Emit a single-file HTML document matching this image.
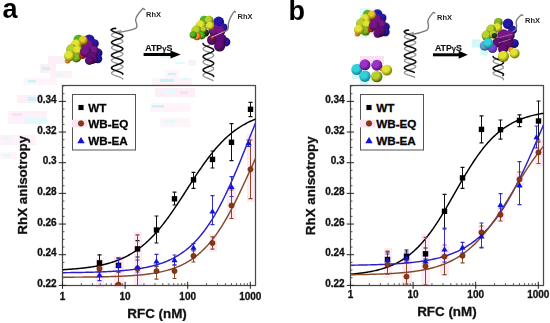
<!DOCTYPE html>
<html><head><meta charset="utf-8"><style>
html,body{margin:0;padding:0;background:#fff;}
body{width:550px;height:323px;overflow:hidden;font-family:"Liberation Sans",sans-serif;}
svg{display:block;}
</style></head><body>
<svg width="550" height="323" viewBox="0 0 550 323">
<rect width="550" height="323" fill="#fff"/>
<rect x="48" y="56" width="16" height="8" fill="#fdeff8"/>
<rect x="61" y="60" width="4" height="4" fill="#e2fafc"/>
<rect x="40" y="64" width="16" height="9" fill="#fdeff8"/>
<rect x="42" y="67" width="8" height="3" fill="#c8f4f8"/>
<rect x="50" y="71" width="22" height="7" fill="#fdf2f9"/>
<rect x="55" y="73" width="8" height="3" fill="#e2fafc"/>
<rect x="24" y="78" width="33" height="7" fill="#fef4fa"/>
<rect x="28" y="80" width="8" height="2.5" fill="#c8f4f8"/>
<rect x="17" y="95" width="19" height="8" fill="#fdeff8"/>
<rect x="28" y="97" width="8" height="4" fill="#c8f4f8"/>
<rect x="8" y="111" width="39" height="13" fill="#fdf2f9"/>
<rect x="25" y="118" width="22" height="6" fill="#e2fafc"/>
<rect x="12" y="113" width="10" height="3" fill="#fae0f2"/>
<rect x="0" y="135" width="36" height="10" fill="#fdf2f9"/>
<rect x="3" y="137" width="8" height="3" fill="#e2fafc"/>
<rect x="0" y="152" width="17" height="7" fill="#fef4fa"/>
<rect x="2" y="154" width="8" height="2.5" fill="#e2fafc"/>
<rect x="152" y="78" width="40" height="8" fill="#fef4fa"/>
<rect x="160" y="79" width="14" height="3" fill="#c8f4f8"/>
<rect x="155" y="88" width="40" height="9" fill="#fdeff8"/>
<rect x="165" y="90" width="10" height="4" fill="#e2fafc"/>
<rect x="180" y="91" width="8" height="3" fill="#fae0f2"/>
<rect x="150" y="103" width="40" height="9" fill="#fef4fa"/>
<rect x="152" y="105" width="12" height="2.5" fill="#c8f4f8"/>
<rect x="160" y="118" width="30" height="9" fill="#fef5fa"/>
<rect x="165" y="120" width="10" height="3" fill="#e2fafc"/>
<rect x="160" y="55" width="12" height="3" fill="#e2fafc"/>
<rect x="175" y="62" width="10" height="2" fill="#e2fafc"/>
<rect x="165" y="70" width="14" height="8" fill="#fef4fa"/>
<rect x="168" y="73" width="8" height="2" fill="#c8f4f8"/>
<rect x="180" y="78" width="10" height="2" fill="#e2fafc"/>
<rect x="188" y="60" width="8" height="6" fill="#fdeff8"/>
<rect x="360" y="8" width="8" height="30" fill="#e4fafa"/>
<rect x="368" y="8" width="8" height="30" fill="#fef5fa"/>
<rect x="96" y="258" width="8" height="30" fill="#fdeaf4"/>
<rect x="114" y="256" width="10" height="32" fill="#fdeaf4"/>
<rect x="134" y="232" width="8" height="54" fill="#fdeaf4"/>
<rect x="247" y="134" width="9" height="68" fill="#fdeaf4"/>
<rect x="227" y="186" width="9" height="34" fill="#fdeaf4"/>
<rect x="209" y="234" width="8" height="18" fill="#fdeaf4"/>
<rect x="384" y="248" width="8" height="30" fill="#fdeaf4"/>
<rect x="402" y="258" width="10" height="28" fill="#fdeaf4"/>
<rect x="421" y="234" width="9" height="52" fill="#fdeaf4"/>
<rect x="440" y="246" width="9" height="30" fill="#fdeaf4"/>
<rect x="535" y="140" width="8" height="26" fill="#fdeaf4"/>
<rect x="516" y="172" width="8" height="16" fill="#fdeaf4"/>
<rect x="497" y="208" width="8" height="14" fill="#fdeaf4"/>
<rect x="478" y="226" width="8" height="10" fill="#fdeaf4"/>
<defs>
<radialGradient id="sy" cx="0.4" cy="0.36" r="0.66"><stop offset="0" stop-color="#e2e232"/><stop offset="0.45" stop-color="#e2e232"/><stop offset="1" stop-color="#6a7000"/></radialGradient>
<radialGradient id="syg" cx="0.4" cy="0.36" r="0.66"><stop offset="0" stop-color="#b8d02a"/><stop offset="0.45" stop-color="#b8d02a"/><stop offset="1" stop-color="#405a00"/></radialGradient>
<radialGradient id="sg" cx="0.4" cy="0.36" r="0.66"><stop offset="0" stop-color="#52b422"/><stop offset="0.45" stop-color="#52b422"/><stop offset="1" stop-color="#1a5000"/></radialGradient>
<radialGradient id="so" cx="0.4" cy="0.36" r="0.66"><stop offset="0" stop-color="#f89030"/><stop offset="0.45" stop-color="#f89030"/><stop offset="1" stop-color="#984000"/></radialGradient>
<radialGradient id="sr" cx="0.4" cy="0.36" r="0.66"><stop offset="0" stop-color="#c83018"/><stop offset="0.45" stop-color="#c83018"/><stop offset="1" stop-color="#681000"/></radialGradient>
<radialGradient id="sp" cx="0.4" cy="0.36" r="0.66"><stop offset="0" stop-color="#761888"/><stop offset="0.45" stop-color="#761888"/><stop offset="1" stop-color="#340444"/></radialGradient>
<radialGradient id="spd" cx="0.4" cy="0.36" r="0.66"><stop offset="0" stop-color="#641078"/><stop offset="0.45" stop-color="#641078"/><stop offset="1" stop-color="#2a0436"/></radialGradient>
<radialGradient id="sb" cx="0.4" cy="0.36" r="0.66"><stop offset="0" stop-color="#2618b0"/><stop offset="0.45" stop-color="#2618b0"/><stop offset="1" stop-color="#0a065a"/></radialGradient>
<radialGradient id="sc" cx="0.4" cy="0.36" r="0.66"><stop offset="0" stop-color="#30d0d8"/><stop offset="0.45" stop-color="#30d0d8"/><stop offset="1" stop-color="#147890"/></radialGradient>
<radialGradient id="scb" cx="0.4" cy="0.36" r="0.66"><stop offset="0" stop-color="#6aa0d0"/><stop offset="0.45" stop-color="#6aa0d0"/><stop offset="1" stop-color="#2a4a88"/></radialGradient>
<radialGradient id="sv" cx="0.4" cy="0.36" r="0.66"><stop offset="0" stop-color="#7a4cd8"/><stop offset="0.45" stop-color="#7a4cd8"/><stop offset="1" stop-color="#3a1c88"/></radialGradient>
<radialGradient id="sbr" cx="0.4" cy="0.36" r="0.66"><stop offset="0" stop-color="#903418"/><stop offset="0.45" stop-color="#903418"/><stop offset="1" stop-color="#4a1000"/></radialGradient>
<radialGradient id="sk" cx="0.4" cy="0.36" r="0.66"><stop offset="0" stop-color="#2a3a1a"/><stop offset="0.45" stop-color="#2a3a1a"/><stop offset="1" stop-color="#0e1a06"/></radialGradient>
<radialGradient id="syo" cx="0.4" cy="0.36" r="0.66"><stop offset="0" stop-color="#e8c828"/><stop offset="0.45" stop-color="#e8c828"/><stop offset="1" stop-color="#7a5a00"/></radialGradient>
<radialGradient id="sgy" cx="0.4" cy="0.36" r="0.66"><stop offset="0" stop-color="#88b820"/><stop offset="0.45" stop-color="#88b820"/><stop offset="1" stop-color="#2e5200"/></radialGradient>
<radialGradient id="spv" cx="0.4" cy="0.36" r="0.66"><stop offset="0" stop-color="#9a30c8"/><stop offset="0.45" stop-color="#9a30c8"/><stop offset="1" stop-color="#4a0a70"/></radialGradient>
<radialGradient id="src" cx="0.4" cy="0.36" r="0.66"><stop offset="0" stop-color="#6a4a80"/><stop offset="0.45" stop-color="#6a4a80"/><stop offset="1" stop-color="#302040"/></radialGradient>
<filter id="bl" x="-10%" y="-10%" width="120%" height="120%"><feGaussianBlur stdDeviation="0.55"/></filter>
<filter id="bl2" x="-10%" y="-10%" width="120%" height="120%"><feGaussianBlur stdDeviation="0.3"/></filter>
</defs>
<g filter="url(#bl)">
<g transform="translate(0.00,0.00) scale(1)">
<circle cx="82.5" cy="47.0" r="4.5" fill="url(#sbr)"/>
<circle cx="89.2" cy="39.8" r="5.4" fill="url(#sb)"/>
<circle cx="94.5" cy="43.5" r="4.3" fill="url(#sb)"/>
<circle cx="98.0" cy="53.0" r="4.5" fill="url(#sb)"/>
<circle cx="97.8" cy="58.8" r="4.5" fill="url(#sb)"/>
<circle cx="88.4" cy="45.5" r="5.8" fill="url(#sp)"/>
<circle cx="93.4" cy="51.0" r="5.6" fill="url(#sp)"/>
<circle cx="78.4" cy="39.6" r="4.9" fill="url(#sg)"/>
<circle cx="83.2" cy="40.2" r="4.5" fill="url(#syo)"/>
<circle cx="76.2" cy="44.6" r="5.4" fill="url(#sy)"/>
<circle cx="71.6" cy="49.4" r="5.4" fill="url(#syg)"/>
<circle cx="77.6" cy="50.4" r="4.7" fill="url(#sy)"/>
<circle cx="76.4" cy="57.6" r="4.9" fill="url(#sgy)"/>
<circle cx="67.6" cy="60.6" r="2.8" fill="url(#so)"/>
<circle cx="69.4" cy="56.0" r="5.4" fill="url(#sy)"/>
<circle cx="82.6" cy="55.6" r="3.4" fill="url(#sr)"/>
<circle cx="85.6" cy="51.6" r="5.6" fill="url(#sp)"/>
<circle cx="92.2" cy="58.0" r="6.0" fill="url(#spd)"/>
<circle cx="89.4" cy="60.4" r="4.5" fill="url(#spd)"/>
</g>
<g transform="translate(294.50,-22.55) scale(0.93)">
<circle cx="82.5" cy="47.0" r="4.5" fill="url(#sbr)"/>
<circle cx="89.2" cy="39.8" r="5.4" fill="url(#sb)"/>
<circle cx="94.5" cy="43.5" r="4.3" fill="url(#sb)"/>
<circle cx="98.0" cy="53.0" r="4.5" fill="url(#sb)"/>
<circle cx="97.8" cy="58.8" r="4.5" fill="url(#sb)"/>
<circle cx="88.4" cy="45.5" r="5.8" fill="url(#sp)"/>
<circle cx="93.4" cy="51.0" r="5.6" fill="url(#sp)"/>
<circle cx="78.4" cy="39.6" r="4.9" fill="url(#sg)"/>
<circle cx="83.2" cy="40.2" r="4.5" fill="url(#syo)"/>
<circle cx="76.2" cy="44.6" r="5.4" fill="url(#sy)"/>
<circle cx="71.6" cy="49.4" r="5.4" fill="url(#syg)"/>
<circle cx="77.6" cy="50.4" r="4.7" fill="url(#sy)"/>
<circle cx="76.4" cy="57.6" r="4.9" fill="url(#sgy)"/>
<circle cx="67.6" cy="60.6" r="2.8" fill="url(#so)"/>
<circle cx="69.4" cy="56.0" r="5.4" fill="url(#sy)"/>
<circle cx="82.6" cy="55.6" r="3.4" fill="url(#sr)"/>
<circle cx="85.6" cy="51.6" r="5.6" fill="url(#sp)"/>
<circle cx="92.2" cy="58.0" r="6.0" fill="url(#spd)"/>
<circle cx="89.4" cy="60.4" r="4.5" fill="url(#spd)"/>
</g>
</g><g filter="url(#bl2)">
<polyline points="120.56,30.50 119.72,30.85 118.80,31.20 117.83,31.55 116.85,31.90 115.87,32.25 114.94,32.60 114.07,32.95 113.30,33.30 112.64,33.65 112.12,34.00 111.75,34.35 111.54,34.70 111.51,35.05 111.64,35.40 111.94,35.75 112.40,36.10 113.00,36.45 113.73,36.80 114.56,37.15 115.47,37.50 116.43,37.85 117.41,38.20 118.39,38.55 119.33,38.90 120.21,39.25 121.00,39.60 121.68,39.95 122.22,40.30 122.61,40.65 122.84,41.00 122.90,41.35 122.79,41.70 122.51,42.05 122.08,42.40 121.50,42.75 120.79,43.10 119.97,43.45 119.07,43.80 118.11,44.15 117.13,44.50 116.15,44.85 115.20,45.20 114.31,45.55 113.51,45.90 112.81,46.25 112.25,46.60 111.84,46.95 111.59,47.30 111.50,47.65 111.59,48.00 111.84,48.35 112.25,48.70 112.81,49.05 113.51,49.40 114.31,49.75 115.20,50.10 116.15,50.45 117.13,50.80 118.11,51.15 119.07,51.50 119.97,51.85 120.79,52.20 121.50,52.55 122.08,52.90 122.51,53.25 122.79,53.60 122.90,53.95 122.84,54.30 122.61,54.65 122.22,55.00 121.68,55.35 121.00,55.70 120.21,56.05 119.33,56.40 118.39,56.75 117.41,57.10 116.43,57.45 115.47,57.80 114.56,58.15 113.73,58.50 113.00,58.85 112.40,59.20 111.94,59.55 111.64,59.90 111.51,60.25 111.54,60.60 111.75,60.95 112.12,61.30 112.64,61.65 113.30,62.00 114.07,62.35 114.94,62.70 115.87,63.05 116.85,63.40 117.83,63.75 118.80,64.10 119.72,64.45 120.56,64.80 121.30,65.15 121.92,65.50 122.40,65.85 122.73,66.20 122.88,66.55 122.87,66.90 122.69,67.25 122.34,67.60 121.84,67.95 121.21,68.30 120.45,68.65 119.59,69.00 118.66,69.35 117.69,69.70 116.71,70.05 115.74,70.40 114.81,70.75 113.95,71.10 113.19,71.45 112.56,71.80 112.06,72.15 111.71,72.50 111.53,72.85 111.52,73.20 111.67,73.55 112.00,73.90 112.48,74.25 113.10,74.60 113.84,74.95 114.68,75.30 115.60,75.65 116.57,76.00 117.55,76.35 118.53,76.70 119.46,77.05 120.33,77.40 121.10,77.75 121.76,78.10 122.28,78.45 122.65,78.80 122.86,79.15" fill="none" stroke="#969696" stroke-width="1.35" stroke-linecap="round"/>
<polyline points="111.50,29.80 111.59,30.15 111.84,30.50 112.25,30.85 112.81,31.20 113.51,31.55 114.31,31.90 115.20,32.25 116.15,32.60 117.13,32.95 118.11,33.30 119.07,33.65 119.97,34.00 120.79,34.35 121.50,34.70 122.08,35.05 122.51,35.40 122.79,35.75 122.90,36.10 122.84,36.45 122.61,36.80 122.22,37.15 121.68,37.50 121.00,37.85 120.21,38.20 119.33,38.55 118.39,38.90 117.41,39.25 116.43,39.60 115.47,39.95 114.56,40.30 113.73,40.65 113.00,41.00 112.40,41.35 111.94,41.70 111.64,42.05 111.51,42.40 111.54,42.75 111.75,43.10 112.12,43.45 112.64,43.80 113.30,44.15 114.07,44.50 114.94,44.85 115.87,45.20 116.85,45.55 117.83,45.90 118.80,46.25 119.72,46.60 120.56,46.95 121.30,47.30 121.92,47.65 122.40,48.00 122.73,48.35 122.88,48.70 122.87,49.05 122.69,49.40 122.34,49.75 121.84,50.10 121.21,50.45 120.45,50.80 119.59,51.15 118.66,51.50 117.69,51.85 116.71,52.20 115.74,52.55 114.81,52.90 113.95,53.25 113.19,53.60 112.56,53.95 112.06,54.30 111.71,54.65 111.53,55.00 111.52,55.35 111.67,55.70 112.00,56.05 112.48,56.40 113.10,56.75 113.84,57.10 114.68,57.45 115.60,57.80 116.57,58.15 117.55,58.50 118.53,58.85 119.46,59.20 120.33,59.55 121.10,59.90 121.76,60.25 122.28,60.60 122.65,60.95 122.86,61.30 122.89,61.65 122.76,62.00 122.46,62.35 122.00,62.70 121.40,63.05 120.67,63.40 119.84,63.75 118.93,64.10 117.97,64.45 116.99,64.80 116.01,65.15 115.07,65.50 114.19,65.85 113.40,66.20 112.72,66.55 112.18,66.90 111.79,67.25 111.56,67.60 111.50,67.95 111.61,68.30 111.89,68.65 112.32,69.00 112.90,69.35 113.61,69.70 114.43,70.05 115.33,70.40 116.29,70.75 117.27,71.10 118.25,71.45 119.20,71.80 120.09,72.15 120.89,72.50 121.59,72.85 122.15,73.20 122.56,73.55 122.81,73.90 122.90,74.25" fill="none" stroke="#111" stroke-width="1.55" stroke-linecap="round"/>
<path d="M115.6,28.4 Q112.2,28.2 111.1,29.9" fill="none" stroke="#111" stroke-width="1.7" stroke-linecap="round"/>
<path d="M117.5,32.6 C124,31.6 131,30.6 135.6,28.4 C139,26.2 135.4,22.5 135.6,19.6 C136.3,15.2 139.5,12 142.9,8.4 L145.2,9.8" fill="none" stroke="#7c7c7c" stroke-width="1.4"/>
<polyline points="413.20,32.50 412.28,32.85 411.29,33.20 410.25,33.55 409.21,33.90 408.20,34.25 407.25,34.60 406.40,34.95 405.67,35.30 405.09,35.65 404.68,36.00 404.45,36.35 404.41,36.70 404.56,37.05 404.89,37.40 405.40,37.75 406.07,38.10 406.87,38.45 407.78,38.80 408.77,39.15 409.80,39.50 410.84,39.85 411.86,40.20 412.82,40.55 413.69,40.90 414.43,41.25 415.04,41.60 415.47,41.95 415.73,42.30 415.80,42.65 415.68,43.00 415.37,43.35 414.88,43.70 414.23,44.05 413.45,44.40 412.55,44.75 411.58,45.10 410.55,45.45 409.50,45.80 408.48,46.15 407.51,46.50 406.63,46.85 405.86,47.20 405.24,47.55 404.78,47.90 404.50,48.25 404.40,48.60 404.50,48.95 404.78,49.30 405.24,49.65 405.86,50.00 406.63,50.35 407.51,50.70 408.48,51.05 409.50,51.40 410.55,51.75 411.58,52.10 412.55,52.45 413.45,52.80 414.23,53.15 414.88,53.50 415.37,53.85 415.68,54.20 415.80,54.55 415.73,54.90 415.47,55.25 415.04,55.60 414.43,55.95 413.69,56.30 412.82,56.65 411.86,57.00 410.84,57.35 409.80,57.70 408.77,58.05 407.78,58.40 406.87,58.75 406.07,59.10 405.40,59.45 404.89,59.80 404.56,60.15 404.41,60.50 404.45,60.85 404.68,61.20 405.09,61.55 405.67,61.90 406.40,62.25 407.25,62.60 408.20,62.95 409.21,63.30 410.25,63.65 411.29,64.00 412.28,64.35 413.20,64.70 414.02,65.05 414.71,65.40 415.24,65.75 415.61,66.10 415.78,66.45 415.77,66.80 415.57,67.15 415.18,67.50 414.62,67.85 413.91,68.20 413.08,68.55 412.14,68.90 411.14,69.25 410.10,69.60 409.06,69.95 408.06,70.30 407.12,70.65 406.29,71.00 405.58,71.35 405.02,71.70 404.63,72.05 404.43,72.40 404.42,72.75 404.59,73.10 404.96,73.45 405.49,73.80 406.18,74.15 407.00,74.50 407.92,74.85 408.91,75.20 409.95,75.55 410.99,75.90 412.00,76.25 412.95,76.60 413.80,76.95 414.53,77.30" fill="none" stroke="#969696" stroke-width="1.35" stroke-linecap="round"/>
<polyline points="404.40,31.80 404.50,32.15 404.78,32.50 405.24,32.85 405.86,33.20 406.63,33.55 407.51,33.90 408.48,34.25 409.50,34.60 410.55,34.95 411.58,35.30 412.55,35.65 413.45,36.00 414.23,36.35 414.88,36.70 415.37,37.05 415.68,37.40 415.80,37.75 415.73,38.10 415.47,38.45 415.04,38.80 414.43,39.15 413.69,39.50 412.82,39.85 411.86,40.20 410.84,40.55 409.80,40.90 408.77,41.25 407.78,41.60 406.87,41.95 406.07,42.30 405.40,42.65 404.89,43.00 404.56,43.35 404.41,43.70 404.45,44.05 404.68,44.40 405.09,44.75 405.67,45.10 406.40,45.45 407.25,45.80 408.20,46.15 409.21,46.50 410.25,46.85 411.29,47.20 412.28,47.55 413.20,47.90 414.02,48.25 414.71,48.60 415.24,48.95 415.61,49.30 415.78,49.65 415.77,50.00 415.57,50.35 415.18,50.70 414.62,51.05 413.91,51.40 413.08,51.75 412.14,52.10 411.14,52.45 410.10,52.80 409.06,53.15 408.06,53.50 407.12,53.85 406.29,54.20 405.58,54.55 405.02,54.90 404.63,55.25 404.43,55.60 404.42,55.95 404.59,56.30 404.96,56.65 405.49,57.00 406.18,57.35 407.00,57.70 407.92,58.05 408.91,58.40 409.95,58.75 410.99,59.10 412.00,59.45 412.95,59.80 413.80,60.15 414.53,60.50 415.11,60.85 415.52,61.20 415.75,61.55 415.79,61.90 415.64,62.25 415.31,62.60 414.80,62.95 414.13,63.30 413.33,63.65 412.42,64.00 411.43,64.35 410.40,64.70 409.36,65.05 408.34,65.40 407.38,65.75 406.51,66.10 405.77,66.45 405.16,66.80 404.73,67.15 404.47,67.50 404.40,67.85 404.52,68.20 404.83,68.55 405.32,68.90 405.97,69.25 406.75,69.60 407.65,69.95 408.62,70.30 409.65,70.65 410.70,71.00 411.72,71.35 412.69,71.70 413.57,72.05 414.34,72.40" fill="none" stroke="#111" stroke-width="1.55" stroke-linecap="round"/>
<path d="M408.4,30.2 Q405.2,30.0 404.4,31.6" fill="none" stroke="#111" stroke-width="1.7" stroke-linecap="round"/>
<path d="M410.5,34.6 C416,34 422,32.5 426.6,30.4 C430,28 428,24 427.8,21.1 C428.5,18 431,15 433.4,12.4 L435.3,13.4" fill="none" stroke="#7c7c7c" stroke-width="1.4"/>
</g><g filter="url(#bl)">
<rect x="360" y="56" width="24" height="8" fill="#fbe0f4"/><rect x="352" y="64" width="8" height="15" fill="#d4f8f8"/><rect x="360" y="79" width="8" height="6" fill="#d4f8f8"/>
<circle cx="381.9" cy="68.6" r="2.6" fill="url(#so)"/>
<circle cx="356.8" cy="69.6" r="5.5" fill="url(#sc)"/>
<circle cx="386.8" cy="70.2" r="5.4" fill="url(#sy)"/>
<circle cx="365.0" cy="64.8" r="5.5" fill="url(#spv)"/>
<circle cx="376.8" cy="65.2" r="5.5" fill="url(#spv)"/>
<circle cx="364.9" cy="76.2" r="5.7" fill="url(#sc)"/>
<circle cx="376.8" cy="76.6" r="5.7" fill="url(#syg)"/>
<circle cx="371.8" cy="62.4" r="0.9" fill="#f4e8f8"/><circle cx="358.4" cy="76.8" r="0.9" fill="#e8f4f4"/><circle cx="385.2" cy="77.3" r="0.9" fill="#f4f4e0"/>
<polyline points="209.65,45.00 208.78,45.35 207.90,45.70 207.03,46.05 206.20,46.40 205.43,46.75 204.74,47.10 204.16,47.45 203.69,47.80 203.35,48.15 203.15,48.50 203.10,48.85 203.20,49.20 203.43,49.55 203.81,49.90 204.31,50.25 204.93,50.60 205.64,50.95 206.43,51.30 207.27,51.65 208.15,52.00 209.03,52.35 209.89,52.70 210.72,53.05 211.47,53.40 212.15,53.75 212.72,54.10 213.17,54.45 213.49,54.80 213.66,55.15 213.69,55.50 213.58,55.85 213.32,56.20 212.93,56.55 212.41,56.90 211.77,57.25 211.05,57.60 210.25,57.95 209.40,58.30 208.53,58.65 207.65,59.00 206.79,59.35 205.97,59.70 205.22,60.05 204.56,60.40 204.01,60.75 203.58,61.10 203.28,61.45 203.12,61.80 203.11,62.15 203.25,62.50 203.53,62.85 203.94,63.20 204.48,63.55 205.12,63.90 205.86,64.25 206.67,64.60 207.52,64.95 208.40,65.30 209.28,65.65 210.13,66.00 210.94,66.35 211.68,66.70 212.32,67.05 212.86,67.40 213.27,67.75 213.55,68.10 213.69,68.45 213.68,68.80 213.52,69.15 213.22,69.50 212.79,69.85 212.24,70.20 211.58,70.55 210.83,70.90 210.01,71.25 209.15,71.60 208.27,71.95 207.40,72.30 206.55,72.65 205.75,73.00 205.03,73.35 204.39,73.70 203.87,74.05 203.48,74.40 203.22,74.75 203.11,75.10 203.14,75.45 203.31,75.80 203.63,76.15 204.08,76.50 204.65,76.85 205.33,77.20 206.08,77.55 206.91,77.90 207.77,78.25 208.65,78.60 209.53,78.95 210.37,79.30 211.16,79.65 211.87,80.00 212.49,80.35 212.99,80.70" fill="none" stroke="#969696" stroke-width="1.35" stroke-linecap="round"/>
<polyline points="203.10,43.60 203.17,43.95 203.39,44.30 203.75,44.65 204.23,45.00 204.83,45.35 205.53,45.70 206.31,46.05 207.15,46.40 208.02,46.75 208.90,47.10 209.77,47.45 210.60,47.80 211.37,48.15 212.06,48.50 212.64,48.85 213.11,49.20 213.45,49.55 213.65,49.90 213.70,50.25 213.60,50.60 213.37,50.95 212.99,51.30 212.49,51.65 211.87,52.00 211.16,52.35 210.37,52.70 209.53,53.05 208.65,53.40 207.77,53.75 206.91,54.10 206.08,54.45 205.33,54.80 204.65,55.15 204.08,55.50 203.63,55.85 203.31,56.20 203.14,56.55 203.11,56.90 203.22,57.25 203.48,57.60 203.87,57.95 204.39,58.30 205.03,58.65 205.75,59.00 206.55,59.35 207.40,59.70 208.27,60.05 209.15,60.40 210.01,60.75 210.83,61.10 211.58,61.45 212.24,61.80 212.79,62.15 213.22,62.50 213.52,62.85 213.68,63.20 213.69,63.55 213.55,63.90 213.27,64.25 212.86,64.60 212.32,64.95 211.68,65.30 210.94,65.65 210.13,66.00 209.28,66.35 208.40,66.70 207.52,67.05 206.67,67.40 205.86,67.75 205.12,68.10 204.48,68.45 203.94,68.80 203.53,69.15 203.25,69.50 203.11,69.85 203.12,70.20 203.28,70.55 203.58,70.90 204.01,71.25 204.56,71.60 205.22,71.95 205.97,72.30 206.79,72.65 207.65,73.00 208.53,73.35 209.40,73.70 210.25,74.05 211.05,74.40 211.77,74.75 212.41,75.10 212.93,75.45 213.32,75.80 213.58,76.15 213.69,76.50" fill="none" stroke="#111" stroke-width="1.55" stroke-linecap="round"/>
<circle cx="218.7" cy="22.0" r="5.4" fill="url(#sb)"/>
<circle cx="226.0" cy="42.0" r="4.4" fill="url(#sb)"/>
<circle cx="223.5" cy="27.5" r="4.0" fill="url(#sb)"/>
<circle cx="212.0" cy="40.0" r="5.0" fill="url(#spd)"/>
<circle cx="214.8" cy="30.5" r="6.2" fill="url(#sp)"/>
<circle cx="220.4" cy="31.0" r="5.0" fill="url(#sp)"/>
<circle cx="221.0" cy="39.2" r="5.6" fill="url(#spd)"/>
<circle cx="219.6" cy="46.0" r="5.6" fill="url(#spd)"/>
<circle cx="204.2" cy="20.2" r="4.4" fill="url(#sg)"/>
<circle cx="209.0" cy="20.4" r="4.6" fill="url(#syg)"/>
<circle cx="210.2" cy="25.8" r="4.0" fill="url(#sy)"/>
<circle cx="200.8" cy="25.2" r="5.0" fill="url(#sy)"/>
<circle cx="196.4" cy="30.6" r="5.0" fill="url(#syg)"/>
<circle cx="205.2" cy="33.0" r="3.8" fill="url(#sk)"/>
<circle cx="203.5" cy="29.5" r="3.2" fill="url(#syg)"/>
<circle cx="201.6" cy="35.6" r="3.8" fill="url(#sg)"/>
<circle cx="197.0" cy="36.4" r="3.8" fill="url(#so)"/>
<circle cx="193.2" cy="34.8" r="3.6" fill="url(#sg)"/>
<circle cx="212.5" cy="38.0" r="2.4" fill="url(#sbr)"/>
<path d="M211.5,37.2 L223,32.2" stroke="#e8a8b8" stroke-width="1" fill="none"/>
<path d="M222.5,32.2 C226,31.6 228.6,30.6 228.3,26.5 C228,22.5 229.6,18.6 232.7,13.7 L234.6,11.2 L235.9,12.5" fill="none" stroke="#7c7c7c" stroke-width="1.4"/>
<rect x="472" y="39.3" width="8.3" height="8.3" fill="#d4f8f8"/><rect x="480.3" y="47.6" width="7.5" height="7.9" fill="#d4f8f8"/>
<polyline points="498.84,58.00 497.89,58.35 496.95,58.70 496.06,59.05 495.24,59.40 494.53,59.75 493.94,60.10 493.50,60.45 493.21,60.80 493.10,61.15 493.16,61.50 493.40,61.85 493.80,62.20 494.35,62.55 495.03,62.90 495.82,63.25 496.69,63.60 497.62,63.95 498.57,64.30 499.51,64.65 500.42,65.00 501.25,65.35 501.98,65.70 502.59,66.05 503.05,66.40 503.36,66.75 503.49,67.10 503.46,67.45 503.25,67.80 502.87,68.15 502.34,68.50 501.68,68.85 500.90,69.20 500.04,69.55 499.11,69.90 498.16,70.25 497.22,70.60 496.31,70.95 495.47,71.30 494.72,71.65 494.09,72.00 493.61,72.35 493.28,72.70 493.12,73.05 493.13,73.40 493.31,73.75 493.67,74.10 494.17,74.45 494.82,74.80 495.58,75.15 496.44,75.50 497.35,75.85 498.30,76.20 499.25,76.55 500.16,76.90 501.02,77.25 501.78,77.60 502.43,77.95 502.93,78.30 503.29,78.65 503.47,79.00 503.48,79.35 503.32,79.70" fill="none" stroke="#969696" stroke-width="1.35" stroke-linecap="round"/>
<polyline points="493.10,56.50 493.19,56.85 493.45,57.20 493.87,57.55 494.44,57.90 495.13,58.25 495.94,58.60 496.82,58.95 497.76,59.30 498.71,59.65 499.65,60.00 500.54,60.35 501.36,60.70 502.07,61.05 502.66,61.40 503.10,61.75 503.39,62.10 503.50,62.45 503.44,62.80 503.20,63.15 502.80,63.50 502.25,63.85 501.57,64.20 500.78,64.55 499.91,64.90 498.98,65.25 498.03,65.60 497.09,65.95 496.18,66.30 495.35,66.65 494.62,67.00 494.01,67.35 493.55,67.70 493.24,68.05 493.11,68.40 493.14,68.75 493.35,69.10 493.73,69.45 494.26,69.80 494.92,70.15 495.70,70.50 496.56,70.85 497.49,71.20 498.44,71.55 499.38,71.90 500.29,72.25 501.13,72.60 501.88,72.95 502.51,73.30 502.99,73.65 503.32,74.00 503.48,74.35 503.47,74.70 503.29,75.05 502.93,75.40" fill="none" stroke="#111" stroke-width="1.55" stroke-linecap="round"/>
<circle cx="508.0" cy="23.8" r="5.2" fill="url(#sb)"/>
<circle cx="512.5" cy="30.0" r="4.4" fill="url(#sb)"/>
<circle cx="514.2" cy="43.5" r="4.6" fill="url(#sb)"/>
<circle cx="503.5" cy="35.5" r="6.2" fill="url(#sp)"/>
<circle cx="507.5" cy="43.5" r="6.2" fill="url(#spd)"/>
<circle cx="509.5" cy="35.5" r="5.2" fill="url(#sp)"/>
<circle cx="497.5" cy="42.5" r="5.0" fill="url(#spd)"/>
<circle cx="503.0" cy="49.0" r="5.0" fill="url(#spd)"/>
<circle cx="498.3" cy="22.4" r="4.4" fill="url(#sgy)"/>
<circle cx="497.5" cy="27.6" r="4.6" fill="url(#sy)"/>
<circle cx="491.0" cy="29.4" r="4.8" fill="url(#syg)"/>
<circle cx="486.6" cy="35.6" r="5.0" fill="url(#syg)"/>
<circle cx="493.5" cy="34.5" r="4.2" fill="url(#syg)"/>
<circle cx="494.3" cy="35.5" r="2.6" fill="url(#sk)"/>
<circle cx="492.5" cy="48.5" r="4.6" fill="url(#sv)"/>
<circle cx="484.8" cy="45.8" r="5.0" fill="url(#scb)"/>
<circle cx="488.2" cy="43.2" r="5.2" fill="url(#sc)"/>
<circle cx="510.9" cy="49.7" r="2.6" fill="url(#so)"/>
<circle cx="514.6" cy="53.4" r="5.0" fill="url(#sy)"/>
<circle cx="503.5" cy="56.3" r="5.6" fill="url(#sy)"/>
<path d="M498.3,37.8 L512.4,34.1 M498.3,43 L511,39" stroke="#c87898" stroke-width="0.7" fill="none"/>
<path d="M512.5,32 C516,30 517.5,27 516.1,23 C516,20 518.5,17 521.5,14.7 L523.3,15.6" fill="none" stroke="#7c7c7c" stroke-width="1.4"/>
</g>
<g>
<rect x="143.6" y="53.0" width="27.900000000000006" height="3" fill="#000"/>
<polygon points="170.5,50.5 180.7,54.5 170.5,58.5" fill="#000"/>
<text x="145.2" y="50.5" font-family="Liberation Sans, sans-serif" font-weight="bold" font-size="8.8" fill="#111" stroke="#111" stroke-width="0.15">ATP<tspan font-size="7.6">γ</tspan>S</text>
<rect x="433" y="53.3" width="26.69999999999999" height="3" fill="#000"/>
<polygon points="458.7,50.8 467.8,54.8 458.7,58.8" fill="#000"/>
<text x="434.9" y="50.5" font-family="Liberation Sans, sans-serif" font-weight="bold" font-size="8.8" fill="#111" stroke="#111" stroke-width="0.15">ATP<tspan font-size="7.6">γ</tspan>S</text>
<text x="146" y="17.3" font-family="Liberation Sans, sans-serif" font-weight="bold" font-size="7.5" fill="#222">RhX</text>
<text x="437" y="19.9" font-family="Liberation Sans, sans-serif" font-weight="bold" font-size="7.5" fill="#222">RhX</text>
<text x="237.6" y="19.4" font-family="Liberation Sans, sans-serif" font-weight="bold" font-size="7.5" fill="#222">RhX</text>
<text x="525" y="22.5" font-family="Liberation Sans, sans-serif" font-weight="bold" font-size="7.5" fill="#222">RhX</text>
</g>
<text x="2.5" y="18.3" font-family="Liberation Sans, sans-serif" font-weight="bold" font-size="27" fill="#000">a</text>
<text x="288.5" y="20" font-family="Liberation Sans, sans-serif" font-weight="bold" font-size="27" fill="#000">b</text>
<rect x="62.5" y="85.5" width="193" height="200" fill="none" stroke="#4a4a4a" stroke-width="1.25"/>
<line x1="62.50" y1="288.8" x2="62.50" y2="281.8" stroke="#222" stroke-width="1"/>
<line x1="81.34" y1="285.5" x2="81.34" y2="283.2" stroke="#444" stroke-width="0.9"/>
<line x1="92.37" y1="285.5" x2="92.37" y2="283.2" stroke="#444" stroke-width="0.9"/>
<line x1="100.19" y1="285.5" x2="100.19" y2="283.2" stroke="#444" stroke-width="0.9"/>
<line x1="106.26" y1="285.5" x2="106.26" y2="283.2" stroke="#444" stroke-width="0.9"/>
<line x1="111.21" y1="285.5" x2="111.21" y2="283.2" stroke="#444" stroke-width="0.9"/>
<line x1="115.40" y1="285.5" x2="115.40" y2="283.2" stroke="#444" stroke-width="0.9"/>
<line x1="119.03" y1="285.5" x2="119.03" y2="283.2" stroke="#444" stroke-width="0.9"/>
<line x1="122.24" y1="285.5" x2="122.24" y2="283.2" stroke="#444" stroke-width="0.9"/>
<line x1="125.10" y1="288.8" x2="125.10" y2="281.8" stroke="#222" stroke-width="1"/>
<line x1="143.94" y1="285.5" x2="143.94" y2="283.2" stroke="#444" stroke-width="0.9"/>
<line x1="154.97" y1="285.5" x2="154.97" y2="283.2" stroke="#444" stroke-width="0.9"/>
<line x1="162.79" y1="285.5" x2="162.79" y2="283.2" stroke="#444" stroke-width="0.9"/>
<line x1="168.86" y1="285.5" x2="168.86" y2="283.2" stroke="#444" stroke-width="0.9"/>
<line x1="173.81" y1="285.5" x2="173.81" y2="283.2" stroke="#444" stroke-width="0.9"/>
<line x1="178.00" y1="285.5" x2="178.00" y2="283.2" stroke="#444" stroke-width="0.9"/>
<line x1="181.63" y1="285.5" x2="181.63" y2="283.2" stroke="#444" stroke-width="0.9"/>
<line x1="184.84" y1="285.5" x2="184.84" y2="283.2" stroke="#444" stroke-width="0.9"/>
<line x1="187.70" y1="288.8" x2="187.70" y2="281.8" stroke="#222" stroke-width="1"/>
<line x1="206.54" y1="285.5" x2="206.54" y2="283.2" stroke="#444" stroke-width="0.9"/>
<line x1="217.57" y1="285.5" x2="217.57" y2="283.2" stroke="#444" stroke-width="0.9"/>
<line x1="225.39" y1="285.5" x2="225.39" y2="283.2" stroke="#444" stroke-width="0.9"/>
<line x1="231.46" y1="285.5" x2="231.46" y2="283.2" stroke="#444" stroke-width="0.9"/>
<line x1="236.41" y1="285.5" x2="236.41" y2="283.2" stroke="#444" stroke-width="0.9"/>
<line x1="240.60" y1="285.5" x2="240.60" y2="283.2" stroke="#444" stroke-width="0.9"/>
<line x1="244.23" y1="285.5" x2="244.23" y2="283.2" stroke="#444" stroke-width="0.9"/>
<line x1="247.44" y1="285.5" x2="247.44" y2="283.2" stroke="#444" stroke-width="0.9"/>
<line x1="250.30" y1="288.8" x2="250.30" y2="281.8" stroke="#222" stroke-width="1"/>
<text x="62.50" y="300" font-family="Liberation Sans, sans-serif" font-weight="bold" stroke="#111" stroke-width="0.3" font-size="10" text-anchor="middle" fill="#111">1</text>
<text x="125.10" y="300" font-family="Liberation Sans, sans-serif" font-weight="bold" stroke="#111" stroke-width="0.3" font-size="10" text-anchor="middle" fill="#111">10</text>
<text x="187.70" y="300" font-family="Liberation Sans, sans-serif" font-weight="bold" stroke="#111" stroke-width="0.3" font-size="10" text-anchor="middle" fill="#111">100</text>
<text x="250.30" y="300" font-family="Liberation Sans, sans-serif" font-weight="bold" stroke="#111" stroke-width="0.3" font-size="10" text-anchor="middle" fill="#111">1000</text>
<line x1="58.7" y1="285.40" x2="66" y2="285.40" stroke="#222" stroke-width="1"/>
<text x="56.6" y="287.00" font-family="Liberation Sans, sans-serif" font-weight="bold" stroke="#111" stroke-width="0.3" font-size="10" text-anchor="end" fill="#111">0.22</text>
<line x1="62.5" y1="277.73" x2="64.5" y2="277.73" stroke="#444" stroke-width="0.9"/>
<line x1="62.5" y1="270.06" x2="64.5" y2="270.06" stroke="#444" stroke-width="0.9"/>
<line x1="62.5" y1="262.40" x2="64.5" y2="262.40" stroke="#444" stroke-width="0.9"/>
<line x1="58.7" y1="254.73" x2="66" y2="254.73" stroke="#222" stroke-width="1"/>
<text x="56.6" y="256.33" font-family="Liberation Sans, sans-serif" font-weight="bold" stroke="#111" stroke-width="0.3" font-size="10" text-anchor="end" fill="#111">0.24</text>
<line x1="62.5" y1="247.06" x2="64.5" y2="247.06" stroke="#444" stroke-width="0.9"/>
<line x1="62.5" y1="239.39" x2="64.5" y2="239.39" stroke="#444" stroke-width="0.9"/>
<line x1="62.5" y1="231.73" x2="64.5" y2="231.73" stroke="#444" stroke-width="0.9"/>
<line x1="58.7" y1="224.06" x2="66" y2="224.06" stroke="#222" stroke-width="1"/>
<text x="56.6" y="225.66" font-family="Liberation Sans, sans-serif" font-weight="bold" stroke="#111" stroke-width="0.3" font-size="10" text-anchor="end" fill="#111">0.26</text>
<line x1="62.5" y1="216.39" x2="64.5" y2="216.39" stroke="#444" stroke-width="0.9"/>
<line x1="62.5" y1="208.72" x2="64.5" y2="208.72" stroke="#444" stroke-width="0.9"/>
<line x1="62.5" y1="201.06" x2="64.5" y2="201.06" stroke="#444" stroke-width="0.9"/>
<line x1="58.7" y1="193.39" x2="66" y2="193.39" stroke="#222" stroke-width="1"/>
<text x="56.6" y="194.99" font-family="Liberation Sans, sans-serif" font-weight="bold" stroke="#111" stroke-width="0.3" font-size="10" text-anchor="end" fill="#111">0.28</text>
<line x1="62.5" y1="185.72" x2="64.5" y2="185.72" stroke="#444" stroke-width="0.9"/>
<line x1="62.5" y1="178.05" x2="64.5" y2="178.05" stroke="#444" stroke-width="0.9"/>
<line x1="62.5" y1="170.39" x2="64.5" y2="170.39" stroke="#444" stroke-width="0.9"/>
<line x1="58.7" y1="162.72" x2="66" y2="162.72" stroke="#222" stroke-width="1"/>
<text x="56.6" y="164.32" font-family="Liberation Sans, sans-serif" font-weight="bold" stroke="#111" stroke-width="0.3" font-size="10" text-anchor="end" fill="#111">0.3</text>
<line x1="62.5" y1="155.05" x2="64.5" y2="155.05" stroke="#444" stroke-width="0.9"/>
<line x1="62.5" y1="147.38" x2="64.5" y2="147.38" stroke="#444" stroke-width="0.9"/>
<line x1="62.5" y1="139.72" x2="64.5" y2="139.72" stroke="#444" stroke-width="0.9"/>
<line x1="58.7" y1="132.05" x2="66" y2="132.05" stroke="#222" stroke-width="1"/>
<text x="56.6" y="133.65" font-family="Liberation Sans, sans-serif" font-weight="bold" stroke="#111" stroke-width="0.3" font-size="10" text-anchor="end" fill="#111">0.32</text>
<line x1="62.5" y1="124.38" x2="64.5" y2="124.38" stroke="#444" stroke-width="0.9"/>
<line x1="62.5" y1="116.71" x2="64.5" y2="116.71" stroke="#444" stroke-width="0.9"/>
<line x1="62.5" y1="109.05" x2="64.5" y2="109.05" stroke="#444" stroke-width="0.9"/>
<line x1="58.7" y1="101.38" x2="66" y2="101.38" stroke="#222" stroke-width="1"/>
<text x="56.6" y="102.98" font-family="Liberation Sans, sans-serif" font-weight="bold" stroke="#111" stroke-width="0.3" font-size="10" text-anchor="end" fill="#111">0.34</text>
<line x1="62.5" y1="93.71" x2="64.5" y2="93.71" stroke="#444" stroke-width="0.9"/>
<line x1="62.5" y1="86.05" x2="64.5" y2="86.05" stroke="#444" stroke-width="0.9"/>
<text x="157.05" y="317.6" font-family="Liberation Sans, sans-serif" font-weight="bold" stroke="#111" stroke-width="0.3" font-size="13.4" text-anchor="middle" fill="#111">RFC (nM)</text>
<text transform="translate(26.5,185.25) rotate(-90)" font-family="Liberation Sans, sans-serif" font-weight="bold" stroke="#111" stroke-width="0.3" font-size="13.4" text-anchor="middle" fill="#111">RhX anisotropy</text>
<clipPath id="clipa"><rect x="63" y="86" width="192.5" height="199.5"/></clipPath>
<g clip-path="url(#clipa)">
<polyline points="63.0,269.66 64.0,269.61 65.0,269.55 66.0,269.49 67.0,269.43 68.0,269.37 69.0,269.30 70.0,269.23 71.0,269.16 72.0,269.09 73.0,269.01 74.0,268.93 75.0,268.85 76.0,268.76 77.0,268.67 78.0,268.58 79.0,268.48 80.0,268.38 81.0,268.28 82.0,268.17 83.0,268.06 84.0,267.95 85.0,267.83 86.0,267.70 87.0,267.57 88.0,267.44 89.0,267.30 90.0,267.16 91.0,267.01 92.0,266.86 93.0,266.70 94.0,266.53 95.0,266.36 96.0,266.18 97.0,265.99 98.0,265.80 99.0,265.60 100.0,265.40 101.0,265.18 102.0,264.96 103.0,264.73 104.0,264.50 105.0,264.25 106.0,264.00 107.0,263.73 108.0,263.46 109.0,263.18 110.0,262.88 111.0,262.58 112.0,262.27 113.0,261.94 114.0,261.61 115.0,261.26 116.0,260.90 117.0,260.53 118.0,260.15 119.0,259.75 120.0,259.34 121.0,258.92 122.0,258.48 123.0,258.03 124.0,257.56 125.0,257.08 126.0,256.58 127.0,256.07 128.0,255.54 129.0,254.99 130.0,254.43 131.0,253.85 132.0,253.25 133.0,252.63 134.0,252.00 135.0,251.35 136.0,250.67 137.0,249.98 138.0,249.27 139.0,248.53 140.0,247.78 141.0,247.01 142.0,246.21 143.0,245.39 144.0,244.56 145.0,243.70 146.0,242.81 147.0,241.91 148.0,240.98 149.0,240.03 150.0,239.06 151.0,238.06 152.0,237.04 153.0,236.00 154.0,234.94 155.0,233.85 156.0,232.74 157.0,231.61 158.0,230.45 159.0,229.28 160.0,228.08 161.0,226.85 162.0,225.61 163.0,224.35 164.0,223.06 165.0,221.76 166.0,220.43 167.0,219.09 168.0,217.72 169.0,216.34 170.0,214.94 171.0,213.53 172.0,212.09 173.0,210.65 174.0,209.19 175.0,207.71 176.0,206.22 177.0,204.73 178.0,203.22 179.0,201.70 180.0,200.17 181.0,198.63 182.0,197.09 183.0,195.54 184.0,193.99 185.0,192.44 186.0,190.88 187.0,189.32 188.0,187.76 189.0,186.21 190.0,184.65 191.0,183.10 192.0,181.56 193.0,180.02 194.0,178.49 195.0,176.96 196.0,175.44 197.0,173.94 198.0,172.44 199.0,170.96 200.0,169.49 201.0,168.04 202.0,166.59 203.0,165.17 204.0,163.76 205.0,162.37 206.0,160.99 207.0,159.64 208.0,158.30 209.0,156.98 210.0,155.68 211.0,154.41 212.0,153.15 213.0,151.91 214.0,150.70 215.0,149.51 216.0,148.34 217.0,147.19 218.0,146.07 219.0,144.97 220.0,143.89 221.0,142.83 222.0,141.80 223.0,140.79 224.0,139.80 225.0,138.84 226.0,137.90 227.0,136.98 228.0,136.08 229.0,135.21 230.0,134.36 231.0,133.53 232.0,132.72 233.0,131.93 234.0,131.17 235.0,130.42 236.0,129.69 237.0,128.99 238.0,128.30 239.0,127.64 240.0,126.99 241.0,126.36 242.0,125.75 243.0,125.16 244.0,124.59 245.0,124.03 246.0,123.49 247.0,122.97 248.0,122.46 249.0,121.97 250.0,121.50 251.0,121.03 252.0,120.59 253.0,120.16 254.0,119.74 255.0,119.33 256.0,118.94" fill="none" stroke="#000" stroke-width="1.45"/>
<polyline points="63.0,272.68 64.0,272.67 65.0,272.66 66.0,272.65 67.0,272.64 68.0,272.63 69.0,272.62 70.0,272.61 71.0,272.59 72.0,272.58 73.0,272.57 74.0,272.55 75.0,272.54 76.0,272.53 77.0,272.51 78.0,272.49 79.0,272.48 80.0,272.46 81.0,272.44 82.0,272.42 83.0,272.40 84.0,272.38 85.0,272.36 86.0,272.34 87.0,272.32 88.0,272.29 89.0,272.27 90.0,272.25 91.0,272.22 92.0,272.19 93.0,272.16 94.0,272.13 95.0,272.10 96.0,272.07 97.0,272.04 98.0,272.01 99.0,271.97 100.0,271.93 101.0,271.90 102.0,271.86 103.0,271.82 104.0,271.77 105.0,271.73 106.0,271.68 107.0,271.64 108.0,271.59 109.0,271.54 110.0,271.48 111.0,271.43 112.0,271.37 113.0,271.31 114.0,271.25 115.0,271.19 116.0,271.12 117.0,271.05 118.0,270.98 119.0,270.91 120.0,270.83 121.0,270.75 122.0,270.67 123.0,270.58 124.0,270.49 125.0,270.40 126.0,270.30 127.0,270.20 128.0,270.10 129.0,269.99 130.0,269.88 131.0,269.77 132.0,269.65 133.0,269.53 134.0,269.40 135.0,269.26 136.0,269.13 137.0,268.98 138.0,268.83 139.0,268.68 140.0,268.52 141.0,268.35 142.0,268.18 143.0,268.00 144.0,267.82 145.0,267.63 146.0,267.43 147.0,267.23 148.0,267.01 149.0,266.79 150.0,266.56 151.0,266.33 152.0,266.08 153.0,265.82 154.0,265.56 155.0,265.29 156.0,265.00 157.0,264.71 158.0,264.41 159.0,264.09 160.0,263.77 161.0,263.43 162.0,263.08 163.0,262.72 164.0,262.34 165.0,261.95 166.0,261.55 167.0,261.14 168.0,260.71 169.0,260.26 170.0,259.80 171.0,259.33 172.0,258.83 173.0,258.33 174.0,257.80 175.0,257.26 176.0,256.69 177.0,256.11 178.0,255.51 179.0,254.89 180.0,254.25 181.0,253.59 182.0,252.91 183.0,252.20 184.0,251.47 185.0,250.72 186.0,249.95 187.0,249.15 188.0,248.32 189.0,247.47 190.0,246.59 191.0,245.69 192.0,244.76 193.0,243.80 194.0,242.81 195.0,241.80 196.0,240.75 197.0,239.68 198.0,238.57 199.0,237.43 200.0,236.26 201.0,235.06 202.0,233.82 203.0,232.55 204.0,231.25 205.0,229.92 206.0,228.55 207.0,227.14 208.0,225.70 209.0,224.23 210.0,222.71 211.0,221.17 212.0,219.58 213.0,217.97 214.0,216.31 215.0,214.62 216.0,212.89 217.0,211.13 218.0,209.33 219.0,207.49 220.0,205.62 221.0,203.71 222.0,201.77 223.0,199.80 224.0,197.79 225.0,195.75 226.0,193.67 227.0,191.56 228.0,189.43 229.0,187.26 230.0,185.06 231.0,182.83 232.0,180.58 233.0,178.29 234.0,175.99 235.0,173.66 236.0,171.31 237.0,168.93 238.0,166.54 239.0,164.12 240.0,161.69 241.0,159.25 242.0,156.79 243.0,154.32 244.0,151.83 245.0,149.34 246.0,146.85 247.0,144.34 248.0,141.83 249.0,139.32 250.0,136.81 251.0,134.30 252.0,131.80 253.0,129.30 254.0,126.80 255.0,124.32 256.0,121.84" fill="none" stroke="#2c1ec8" stroke-width="1.45"/>
<polyline points="63.0,277.22 64.0,277.21 65.0,277.21 66.0,277.20 67.0,277.20 68.0,277.19 69.0,277.19 70.0,277.18 71.0,277.18 72.0,277.17 73.0,277.16 74.0,277.16 75.0,277.15 76.0,277.14 77.0,277.14 78.0,277.13 79.0,277.12 80.0,277.11 81.0,277.10 82.0,277.10 83.0,277.09 84.0,277.08 85.0,277.07 86.0,277.06 87.0,277.05 88.0,277.03 89.0,277.02 90.0,277.01 91.0,277.00 92.0,276.98 93.0,276.97 94.0,276.96 95.0,276.94 96.0,276.92 97.0,276.91 98.0,276.89 99.0,276.87 100.0,276.86 101.0,276.84 102.0,276.82 103.0,276.79 104.0,276.77 105.0,276.75 106.0,276.73 107.0,276.70 108.0,276.68 109.0,276.65 110.0,276.62 111.0,276.59 112.0,276.56 113.0,276.53 114.0,276.50 115.0,276.46 116.0,276.43 117.0,276.39 118.0,276.35 119.0,276.31 120.0,276.27 121.0,276.23 122.0,276.18 123.0,276.14 124.0,276.09 125.0,276.04 126.0,275.98 127.0,275.93 128.0,275.87 129.0,275.81 130.0,275.75 131.0,275.68 132.0,275.62 133.0,275.55 134.0,275.47 135.0,275.40 136.0,275.32 137.0,275.23 138.0,275.15 139.0,275.06 140.0,274.97 141.0,274.87 142.0,274.77 143.0,274.66 144.0,274.55 145.0,274.44 146.0,274.32 147.0,274.20 148.0,274.07 149.0,273.94 150.0,273.80 151.0,273.65 152.0,273.50 153.0,273.35 154.0,273.19 155.0,273.02 156.0,272.84 157.0,272.66 158.0,272.47 159.0,272.27 160.0,272.07 161.0,271.85 162.0,271.63 163.0,271.40 164.0,271.16 165.0,270.91 166.0,270.65 167.0,270.38 168.0,270.11 169.0,269.82 170.0,269.51 171.0,269.20 172.0,268.88 173.0,268.54 174.0,268.19 175.0,267.82 176.0,267.45 177.0,267.05 178.0,266.65 179.0,266.23 180.0,265.79 181.0,265.33 182.0,264.86 183.0,264.38 184.0,263.87 185.0,263.35 186.0,262.80 187.0,262.24 188.0,261.66 189.0,261.05 190.0,260.43 191.0,259.78 192.0,259.11 193.0,258.42 194.0,257.71 195.0,256.97 196.0,256.20 197.0,255.41 198.0,254.59 199.0,253.75 200.0,252.88 201.0,251.98 202.0,251.06 203.0,250.10 204.0,249.11 205.0,248.10 206.0,247.05 207.0,245.98 208.0,244.87 209.0,243.72 210.0,242.55 211.0,241.35 212.0,240.11 213.0,238.83 214.0,237.53 215.0,236.18 216.0,234.81 217.0,233.40 218.0,231.96 219.0,230.48 220.0,228.97 221.0,227.42 222.0,225.84 223.0,224.22 224.0,222.57 225.0,220.89 226.0,219.18 227.0,217.43 228.0,215.65 229.0,213.84 230.0,212.00 231.0,210.13 232.0,208.23 233.0,206.30 234.0,204.35 235.0,202.37 236.0,200.36 237.0,198.34 238.0,196.29 239.0,194.22 240.0,192.13 241.0,190.02 242.0,187.90 243.0,185.76 244.0,183.61 245.0,181.45 246.0,179.28 247.0,177.10 248.0,174.91 249.0,172.72 250.0,170.53 251.0,168.34 252.0,166.15 253.0,163.97 254.0,161.78 255.0,159.61 256.0,157.44" fill="none" stroke="#84482a" stroke-width="1.45"/>
<line x1="99.50" y1="254.8" x2="99.50" y2="270" stroke="#111" stroke-width="1"/>
<line x1="97.50" y1="254.8" x2="101.50" y2="254.8" stroke="#111" stroke-width="1.2"/>
<line x1="97.50" y1="270" x2="101.50" y2="270" stroke="#111" stroke-width="1.2"/>
<line x1="118.50" y1="258" x2="118.50" y2="272" stroke="#111" stroke-width="1"/>
<line x1="116.50" y1="258" x2="120.50" y2="258" stroke="#111" stroke-width="1.2"/>
<line x1="116.50" y1="272" x2="120.50" y2="272" stroke="#111" stroke-width="1.2"/>
<line x1="137.50" y1="240.6" x2="137.50" y2="257" stroke="#111" stroke-width="1"/>
<line x1="135.50" y1="240.6" x2="139.50" y2="240.6" stroke="#111" stroke-width="1.2"/>
<line x1="135.50" y1="257" x2="139.50" y2="257" stroke="#111" stroke-width="1.2"/>
<line x1="156.50" y1="216" x2="156.50" y2="243" stroke="#111" stroke-width="1"/>
<line x1="154.50" y1="216" x2="158.50" y2="216" stroke="#111" stroke-width="1.2"/>
<line x1="154.50" y1="243" x2="158.50" y2="243" stroke="#111" stroke-width="1.2"/>
<line x1="174.50" y1="192.2" x2="174.50" y2="205" stroke="#111" stroke-width="1"/>
<line x1="172.50" y1="192.2" x2="176.50" y2="192.2" stroke="#111" stroke-width="1.2"/>
<line x1="172.50" y1="205" x2="176.50" y2="205" stroke="#111" stroke-width="1.2"/>
<line x1="193.50" y1="172.4" x2="193.50" y2="188.3" stroke="#111" stroke-width="1"/>
<line x1="191.50" y1="172.4" x2="195.50" y2="172.4" stroke="#111" stroke-width="1.2"/>
<line x1="191.50" y1="188.3" x2="195.50" y2="188.3" stroke="#111" stroke-width="1.2"/>
<line x1="212.50" y1="151" x2="212.50" y2="168" stroke="#111" stroke-width="1"/>
<line x1="210.50" y1="151" x2="214.50" y2="151" stroke="#111" stroke-width="1.2"/>
<line x1="210.50" y1="168" x2="214.50" y2="168" stroke="#111" stroke-width="1.2"/>
<line x1="231.50" y1="123.7" x2="231.50" y2="160.7" stroke="#111" stroke-width="1"/>
<line x1="229.50" y1="123.7" x2="233.50" y2="123.7" stroke="#111" stroke-width="1.2"/>
<line x1="229.50" y1="160.7" x2="233.50" y2="160.7" stroke="#111" stroke-width="1.2"/>
<line x1="250.50" y1="102.4" x2="250.50" y2="116.7" stroke="#111" stroke-width="1"/>
<line x1="248.50" y1="102.4" x2="252.50" y2="102.4" stroke="#111" stroke-width="1.2"/>
<line x1="248.50" y1="116.7" x2="252.50" y2="116.7" stroke="#111" stroke-width="1.2"/>
<line x1="99.50" y1="262" x2="99.50" y2="275" stroke="#8a4a2a" stroke-width="1"/>
<line x1="97.50" y1="262" x2="101.50" y2="262" stroke="#8a4a2a" stroke-width="1.2"/>
<line x1="97.50" y1="275" x2="101.50" y2="275" stroke="#8a4a2a" stroke-width="1.2"/>
<line x1="118.50" y1="258.6" x2="118.50" y2="290" stroke="#8a4a2a" stroke-width="1"/>
<line x1="116.50" y1="258.6" x2="120.50" y2="258.6" stroke="#8a4a2a" stroke-width="1.2"/>
<line x1="116.50" y1="290" x2="120.50" y2="290" stroke="#8a4a2a" stroke-width="1.2"/>
<line x1="137.50" y1="234.8" x2="137.50" y2="290" stroke="#8a4a2a" stroke-width="1"/>
<line x1="135.50" y1="234.8" x2="139.50" y2="234.8" stroke="#8a4a2a" stroke-width="1.2"/>
<line x1="135.50" y1="290" x2="139.50" y2="290" stroke="#8a4a2a" stroke-width="1.2"/>
<line x1="156.50" y1="266.7" x2="156.50" y2="279.1" stroke="#8a4a2a" stroke-width="1"/>
<line x1="154.50" y1="266.7" x2="158.50" y2="266.7" stroke="#8a4a2a" stroke-width="1.2"/>
<line x1="154.50" y1="279.1" x2="158.50" y2="279.1" stroke="#8a4a2a" stroke-width="1.2"/>
<line x1="174.50" y1="264.8" x2="174.50" y2="278.5" stroke="#8a4a2a" stroke-width="1"/>
<line x1="172.50" y1="264.8" x2="176.50" y2="264.8" stroke="#8a4a2a" stroke-width="1.2"/>
<line x1="172.50" y1="278.5" x2="176.50" y2="278.5" stroke="#8a4a2a" stroke-width="1.2"/>
<line x1="193.50" y1="250" x2="193.50" y2="262" stroke="#8a4a2a" stroke-width="1"/>
<line x1="191.50" y1="250" x2="195.50" y2="250" stroke="#8a4a2a" stroke-width="1.2"/>
<line x1="191.50" y1="262" x2="195.50" y2="262" stroke="#8a4a2a" stroke-width="1.2"/>
<line x1="212.50" y1="236.8" x2="212.50" y2="249.2" stroke="#8a4a2a" stroke-width="1"/>
<line x1="210.50" y1="236.8" x2="214.50" y2="236.8" stroke="#8a4a2a" stroke-width="1.2"/>
<line x1="210.50" y1="249.2" x2="214.50" y2="249.2" stroke="#8a4a2a" stroke-width="1.2"/>
<line x1="231.50" y1="190" x2="231.50" y2="218.5" stroke="#8a4a2a" stroke-width="1"/>
<line x1="229.50" y1="190" x2="233.50" y2="190" stroke="#8a4a2a" stroke-width="1.2"/>
<line x1="229.50" y1="218.5" x2="233.50" y2="218.5" stroke="#8a4a2a" stroke-width="1.2"/>
<line x1="250.50" y1="140" x2="250.50" y2="198.7" stroke="#8a4a2a" stroke-width="1"/>
<line x1="248.50" y1="140" x2="252.50" y2="140" stroke="#8a4a2a" stroke-width="1.2"/>
<line x1="248.50" y1="198.7" x2="252.50" y2="198.7" stroke="#8a4a2a" stroke-width="1.2"/>
<line x1="99.50" y1="271.8" x2="99.50" y2="280.6" stroke="#3030c8" stroke-width="1"/>
<line x1="97.50" y1="271.8" x2="101.50" y2="271.8" stroke="#3030c8" stroke-width="1.2"/>
<line x1="97.50" y1="280.6" x2="101.50" y2="280.6" stroke="#3030c8" stroke-width="1.2"/>
<line x1="118.50" y1="258" x2="118.50" y2="272" stroke="#3030c8" stroke-width="1"/>
<line x1="116.50" y1="258" x2="120.50" y2="258" stroke="#3030c8" stroke-width="1.2"/>
<line x1="116.50" y1="272" x2="120.50" y2="272" stroke="#3030c8" stroke-width="1.2"/>
<line x1="137.50" y1="260" x2="137.50" y2="272" stroke="#3030c8" stroke-width="1"/>
<line x1="135.50" y1="260" x2="139.50" y2="260" stroke="#3030c8" stroke-width="1.2"/>
<line x1="135.50" y1="272" x2="139.50" y2="272" stroke="#3030c8" stroke-width="1.2"/>
<line x1="156.50" y1="254.3" x2="156.50" y2="266" stroke="#3030c8" stroke-width="1"/>
<line x1="154.50" y1="254.3" x2="158.50" y2="254.3" stroke="#3030c8" stroke-width="1.2"/>
<line x1="154.50" y1="266" x2="158.50" y2="266" stroke="#3030c8" stroke-width="1.2"/>
<line x1="174.50" y1="255" x2="174.50" y2="265" stroke="#3030c8" stroke-width="1"/>
<line x1="172.50" y1="255" x2="176.50" y2="255" stroke="#3030c8" stroke-width="1.2"/>
<line x1="172.50" y1="265" x2="176.50" y2="265" stroke="#3030c8" stroke-width="1.2"/>
<line x1="193.50" y1="243.6" x2="193.50" y2="251" stroke="#3030c8" stroke-width="1"/>
<line x1="191.50" y1="243.6" x2="195.50" y2="243.6" stroke="#3030c8" stroke-width="1.2"/>
<line x1="191.50" y1="251" x2="195.50" y2="251" stroke="#3030c8" stroke-width="1.2"/>
<line x1="212.50" y1="195.6" x2="212.50" y2="224.7" stroke="#3030c8" stroke-width="1"/>
<line x1="210.50" y1="195.6" x2="214.50" y2="195.6" stroke="#3030c8" stroke-width="1.2"/>
<line x1="210.50" y1="224.7" x2="214.50" y2="224.7" stroke="#3030c8" stroke-width="1.2"/>
<line x1="231.50" y1="176.7" x2="231.50" y2="196.5" stroke="#3030c8" stroke-width="1"/>
<line x1="229.50" y1="176.7" x2="233.50" y2="176.7" stroke="#3030c8" stroke-width="1.2"/>
<line x1="229.50" y1="196.5" x2="233.50" y2="196.5" stroke="#3030c8" stroke-width="1.2"/>
<line x1="248.50" y1="140" x2="248.50" y2="146.5" stroke="#3030c8" stroke-width="1"/>
<line x1="246.50" y1="140" x2="250.50" y2="140" stroke="#3030c8" stroke-width="1.2"/>
<line x1="246.50" y1="146.5" x2="250.50" y2="146.5" stroke="#3030c8" stroke-width="1.2"/>
<rect x="96.80" y="260.20" width="5.40" height="5.40" fill="#000"/>
<rect x="115.80" y="262.70" width="5.40" height="5.40" fill="#000"/>
<rect x="134.80" y="246.20" width="5.40" height="5.40" fill="#000"/>
<rect x="153.80" y="227.30" width="5.40" height="5.40" fill="#000"/>
<rect x="171.80" y="196.10" width="5.40" height="5.40" fill="#000"/>
<rect x="190.80" y="177.10" width="5.40" height="5.40" fill="#000"/>
<rect x="209.80" y="156.70" width="5.40" height="5.40" fill="#000"/>
<rect x="228.80" y="139.60" width="5.40" height="5.40" fill="#000"/>
<rect x="247.80" y="106.60" width="5.40" height="5.40" fill="#000"/>
<circle cx="99.50" cy="268.50" r="2.60" fill="#8a3812" stroke="#602810" stroke-width="0.6"/>
<circle cx="118.50" cy="284.60" r="2.60" fill="#8a3812" stroke="#602810" stroke-width="0.6"/>
<circle cx="137.50" cy="268.50" r="2.60" fill="#8a3812" stroke="#602810" stroke-width="0.6"/>
<circle cx="156.50" cy="271.00" r="2.60" fill="#8a3812" stroke="#602810" stroke-width="0.6"/>
<circle cx="174.50" cy="271.00" r="2.60" fill="#8a3812" stroke="#602810" stroke-width="0.6"/>
<circle cx="193.50" cy="255.90" r="2.60" fill="#8a3812" stroke="#602810" stroke-width="0.6"/>
<circle cx="212.50" cy="243.00" r="2.60" fill="#8a3812" stroke="#602810" stroke-width="0.6"/>
<circle cx="231.50" cy="205.50" r="2.60" fill="#8a3812" stroke="#602810" stroke-width="0.6"/>
<circle cx="250.50" cy="169.30" r="2.60" fill="#8a3812" stroke="#602810" stroke-width="0.6"/>
<polygon points="99.50,271.95 102.60,277.22 96.40,277.22" fill="#1212d8"/>
<polygon points="118.50,262.06 121.60,267.32 115.40,267.32" fill="#1212d8"/>
<polygon points="137.50,263.95 140.60,269.22 134.40,269.22" fill="#1212d8"/>
<polygon points="156.50,258.16 159.60,263.43 153.40,263.43" fill="#1212d8"/>
<polygon points="174.50,256.95 177.60,262.22 171.40,262.22" fill="#1212d8"/>
<polygon points="193.50,244.56 196.60,249.82 190.40,249.82" fill="#1212d8"/>
<polygon points="212.50,208.16 215.60,213.42 209.40,213.42" fill="#1212d8"/>
<polygon points="231.50,183.66 234.60,188.92 228.40,188.92" fill="#1212d8"/>
<polygon points="248.50,140.06 251.60,145.32 245.40,145.32" fill="#1212d8"/>
</g>
<rect x="72.5" y="94.5" width="63" height="55.5" fill="#fff" stroke="#555" stroke-width="1"/>
<rect x="72" y="119.8" width="15.5" height="7.6" fill="#fde2f2"/>
<rect x="78.44" y="104.94" width="5.13" height="5.13" fill="#000"/>
<text x="88.2" y="111.7" font-family="Liberation Sans, sans-serif" font-weight="bold" stroke="#111" stroke-width="0.3" font-size="11.7" fill="#000">WT</text>
<circle cx="81.00" cy="123.40" r="2.73" fill="#8a3812" stroke="#602810" stroke-width="0.6"/>
<text x="88.2" y="127.6" font-family="Liberation Sans, sans-serif" font-weight="bold" stroke="#111" stroke-width="0.3" font-size="11.7" fill="#000">WB-EQ</text>
<polygon points="81.00,136.97 84.72,143.29 77.28,143.29" fill="#1212d8"/>
<text x="88.2" y="144.7" font-family="Liberation Sans, sans-serif" font-weight="bold" stroke="#111" stroke-width="0.3" font-size="11.7" fill="#000">WB-EA</text>
<rect x="350.5" y="85.5" width="193" height="200" fill="none" stroke="#4a4a4a" stroke-width="1.25"/>
<line x1="350.50" y1="288.8" x2="350.50" y2="281.8" stroke="#222" stroke-width="1"/>
<line x1="369.34" y1="285.5" x2="369.34" y2="283.2" stroke="#444" stroke-width="0.9"/>
<line x1="380.37" y1="285.5" x2="380.37" y2="283.2" stroke="#444" stroke-width="0.9"/>
<line x1="388.19" y1="285.5" x2="388.19" y2="283.2" stroke="#444" stroke-width="0.9"/>
<line x1="394.26" y1="285.5" x2="394.26" y2="283.2" stroke="#444" stroke-width="0.9"/>
<line x1="399.21" y1="285.5" x2="399.21" y2="283.2" stroke="#444" stroke-width="0.9"/>
<line x1="403.40" y1="285.5" x2="403.40" y2="283.2" stroke="#444" stroke-width="0.9"/>
<line x1="407.03" y1="285.5" x2="407.03" y2="283.2" stroke="#444" stroke-width="0.9"/>
<line x1="410.24" y1="285.5" x2="410.24" y2="283.2" stroke="#444" stroke-width="0.9"/>
<line x1="413.10" y1="288.8" x2="413.10" y2="281.8" stroke="#222" stroke-width="1"/>
<line x1="431.94" y1="285.5" x2="431.94" y2="283.2" stroke="#444" stroke-width="0.9"/>
<line x1="442.97" y1="285.5" x2="442.97" y2="283.2" stroke="#444" stroke-width="0.9"/>
<line x1="450.79" y1="285.5" x2="450.79" y2="283.2" stroke="#444" stroke-width="0.9"/>
<line x1="456.86" y1="285.5" x2="456.86" y2="283.2" stroke="#444" stroke-width="0.9"/>
<line x1="461.81" y1="285.5" x2="461.81" y2="283.2" stroke="#444" stroke-width="0.9"/>
<line x1="466.00" y1="285.5" x2="466.00" y2="283.2" stroke="#444" stroke-width="0.9"/>
<line x1="469.63" y1="285.5" x2="469.63" y2="283.2" stroke="#444" stroke-width="0.9"/>
<line x1="472.84" y1="285.5" x2="472.84" y2="283.2" stroke="#444" stroke-width="0.9"/>
<line x1="475.70" y1="288.8" x2="475.70" y2="281.8" stroke="#222" stroke-width="1"/>
<line x1="494.54" y1="285.5" x2="494.54" y2="283.2" stroke="#444" stroke-width="0.9"/>
<line x1="505.57" y1="285.5" x2="505.57" y2="283.2" stroke="#444" stroke-width="0.9"/>
<line x1="513.39" y1="285.5" x2="513.39" y2="283.2" stroke="#444" stroke-width="0.9"/>
<line x1="519.46" y1="285.5" x2="519.46" y2="283.2" stroke="#444" stroke-width="0.9"/>
<line x1="524.41" y1="285.5" x2="524.41" y2="283.2" stroke="#444" stroke-width="0.9"/>
<line x1="528.60" y1="285.5" x2="528.60" y2="283.2" stroke="#444" stroke-width="0.9"/>
<line x1="532.23" y1="285.5" x2="532.23" y2="283.2" stroke="#444" stroke-width="0.9"/>
<line x1="535.44" y1="285.5" x2="535.44" y2="283.2" stroke="#444" stroke-width="0.9"/>
<line x1="538.30" y1="288.8" x2="538.30" y2="281.8" stroke="#222" stroke-width="1"/>
<text x="350.50" y="298" font-family="Liberation Sans, sans-serif" font-weight="bold" stroke="#111" stroke-width="0.3" font-size="10" text-anchor="middle" fill="#111">1</text>
<text x="413.10" y="298" font-family="Liberation Sans, sans-serif" font-weight="bold" stroke="#111" stroke-width="0.3" font-size="10" text-anchor="middle" fill="#111">10</text>
<text x="475.70" y="298" font-family="Liberation Sans, sans-serif" font-weight="bold" stroke="#111" stroke-width="0.3" font-size="10" text-anchor="middle" fill="#111">100</text>
<text x="538.30" y="298" font-family="Liberation Sans, sans-serif" font-weight="bold" stroke="#111" stroke-width="0.3" font-size="10" text-anchor="middle" fill="#111">1000</text>
<line x1="346.7" y1="285.40" x2="354" y2="285.40" stroke="#222" stroke-width="1"/>
<text x="344.6" y="287.00" font-family="Liberation Sans, sans-serif" font-weight="bold" stroke="#111" stroke-width="0.3" font-size="10" text-anchor="end" fill="#111">0.22</text>
<line x1="350.5" y1="277.73" x2="352.5" y2="277.73" stroke="#444" stroke-width="0.9"/>
<line x1="350.5" y1="270.06" x2="352.5" y2="270.06" stroke="#444" stroke-width="0.9"/>
<line x1="350.5" y1="262.40" x2="352.5" y2="262.40" stroke="#444" stroke-width="0.9"/>
<line x1="346.7" y1="254.73" x2="354" y2="254.73" stroke="#222" stroke-width="1"/>
<text x="344.6" y="256.33" font-family="Liberation Sans, sans-serif" font-weight="bold" stroke="#111" stroke-width="0.3" font-size="10" text-anchor="end" fill="#111">0.24</text>
<line x1="350.5" y1="247.06" x2="352.5" y2="247.06" stroke="#444" stroke-width="0.9"/>
<line x1="350.5" y1="239.39" x2="352.5" y2="239.39" stroke="#444" stroke-width="0.9"/>
<line x1="350.5" y1="231.73" x2="352.5" y2="231.73" stroke="#444" stroke-width="0.9"/>
<line x1="346.7" y1="224.06" x2="354" y2="224.06" stroke="#222" stroke-width="1"/>
<text x="344.6" y="225.66" font-family="Liberation Sans, sans-serif" font-weight="bold" stroke="#111" stroke-width="0.3" font-size="10" text-anchor="end" fill="#111">0.26</text>
<line x1="350.5" y1="216.39" x2="352.5" y2="216.39" stroke="#444" stroke-width="0.9"/>
<line x1="350.5" y1="208.72" x2="352.5" y2="208.72" stroke="#444" stroke-width="0.9"/>
<line x1="350.5" y1="201.06" x2="352.5" y2="201.06" stroke="#444" stroke-width="0.9"/>
<line x1="346.7" y1="193.39" x2="354" y2="193.39" stroke="#222" stroke-width="1"/>
<text x="344.6" y="194.99" font-family="Liberation Sans, sans-serif" font-weight="bold" stroke="#111" stroke-width="0.3" font-size="10" text-anchor="end" fill="#111">0.28</text>
<line x1="350.5" y1="185.72" x2="352.5" y2="185.72" stroke="#444" stroke-width="0.9"/>
<line x1="350.5" y1="178.05" x2="352.5" y2="178.05" stroke="#444" stroke-width="0.9"/>
<line x1="350.5" y1="170.39" x2="352.5" y2="170.39" stroke="#444" stroke-width="0.9"/>
<line x1="346.7" y1="162.72" x2="354" y2="162.72" stroke="#222" stroke-width="1"/>
<text x="344.6" y="164.32" font-family="Liberation Sans, sans-serif" font-weight="bold" stroke="#111" stroke-width="0.3" font-size="10" text-anchor="end" fill="#111">0.3</text>
<line x1="350.5" y1="155.05" x2="352.5" y2="155.05" stroke="#444" stroke-width="0.9"/>
<line x1="350.5" y1="147.38" x2="352.5" y2="147.38" stroke="#444" stroke-width="0.9"/>
<line x1="350.5" y1="139.72" x2="352.5" y2="139.72" stroke="#444" stroke-width="0.9"/>
<line x1="346.7" y1="132.05" x2="354" y2="132.05" stroke="#222" stroke-width="1"/>
<text x="344.6" y="133.65" font-family="Liberation Sans, sans-serif" font-weight="bold" stroke="#111" stroke-width="0.3" font-size="10" text-anchor="end" fill="#111">0.32</text>
<line x1="350.5" y1="124.38" x2="352.5" y2="124.38" stroke="#444" stroke-width="0.9"/>
<line x1="350.5" y1="116.71" x2="352.5" y2="116.71" stroke="#444" stroke-width="0.9"/>
<line x1="350.5" y1="109.05" x2="352.5" y2="109.05" stroke="#444" stroke-width="0.9"/>
<line x1="346.7" y1="101.38" x2="354" y2="101.38" stroke="#222" stroke-width="1"/>
<text x="344.6" y="102.98" font-family="Liberation Sans, sans-serif" font-weight="bold" stroke="#111" stroke-width="0.3" font-size="10" text-anchor="end" fill="#111">0.34</text>
<line x1="350.5" y1="93.71" x2="352.5" y2="93.71" stroke="#444" stroke-width="0.9"/>
<line x1="350.5" y1="86.05" x2="352.5" y2="86.05" stroke="#444" stroke-width="0.9"/>
<text x="446.9" y="315.9" font-family="Liberation Sans, sans-serif" font-weight="bold" stroke="#111" stroke-width="0.3" font-size="13.4" text-anchor="middle" fill="#111">RFC (nM)</text>
<text transform="translate(314.9,185.75) rotate(-90)" font-family="Liberation Sans, sans-serif" font-weight="bold" stroke="#111" stroke-width="0.3" font-size="13.4" text-anchor="middle" fill="#111">RhX anisotropy</text>
<clipPath id="clipb"><rect x="351" y="86" width="192.5" height="199.5"/></clipPath>
<g clip-path="url(#clipb)">
<polyline points="351.0,274.16 352.0,274.07 353.0,273.98 354.0,273.88 355.0,273.78 356.0,273.68 357.0,273.57 358.0,273.46 359.0,273.34 360.0,273.22 361.0,273.09 362.0,272.96 363.0,272.82 364.0,272.68 365.0,272.53 366.0,272.38 367.0,272.21 368.0,272.05 369.0,271.87 370.0,271.69 371.0,271.50 372.0,271.30 373.0,271.10 374.0,270.88 375.0,270.66 376.0,270.43 377.0,270.19 378.0,269.94 379.0,269.68 380.0,269.41 381.0,269.13 382.0,268.83 383.0,268.53 384.0,268.22 385.0,267.89 386.0,267.55 387.0,267.20 388.0,266.83 389.0,266.45 390.0,266.05 391.0,265.64 392.0,265.22 393.0,264.78 394.0,264.32 395.0,263.85 396.0,263.35 397.0,262.85 398.0,262.32 399.0,261.77 400.0,261.21 401.0,260.62 402.0,260.01 403.0,259.39 404.0,258.74 405.0,258.07 406.0,257.37 407.0,256.66 408.0,255.92 409.0,255.16 410.0,254.37 411.0,253.56 412.0,252.72 413.0,251.86 414.0,250.97 415.0,250.05 416.0,249.11 417.0,248.14 418.0,247.14 419.0,246.12 420.0,245.06 421.0,243.98 422.0,242.87 423.0,241.73 424.0,240.57 425.0,239.37 426.0,238.15 427.0,236.90 428.0,235.62 429.0,234.31 430.0,232.97 431.0,231.61 432.0,230.22 433.0,228.81 434.0,227.36 435.0,225.90 436.0,224.40 437.0,222.89 438.0,221.35 439.0,219.79 440.0,218.20 441.0,216.60 442.0,214.98 443.0,213.33 444.0,211.68 445.0,210.00 446.0,208.31 447.0,206.61 448.0,204.90 449.0,203.17 450.0,201.44 451.0,199.70 452.0,197.95 453.0,196.20 454.0,194.44 455.0,192.69 456.0,190.93 457.0,189.18 458.0,187.43 459.0,185.68 460.0,183.94 461.0,182.21 462.0,180.48 463.0,178.77 464.0,177.07 465.0,175.38 466.0,173.71 467.0,172.05 468.0,170.42 469.0,168.80 470.0,167.19 471.0,165.61 472.0,164.05 473.0,162.52 474.0,161.00 475.0,159.52 476.0,158.05 477.0,156.61 478.0,155.20 479.0,153.81 480.0,152.45 481.0,151.12 482.0,149.82 483.0,148.54 484.0,147.29 485.0,146.07 486.0,144.88 487.0,143.72 488.0,142.59 489.0,141.48 490.0,140.40 491.0,139.35 492.0,138.33 493.0,137.34 494.0,136.37 495.0,135.43 496.0,134.52 497.0,133.63 498.0,132.77 499.0,131.94 500.0,131.13 501.0,130.34 502.0,129.58 503.0,128.85 504.0,128.13 505.0,127.45 506.0,126.78 507.0,126.13 508.0,125.51 509.0,124.90 510.0,124.32 511.0,123.76 512.0,123.21 513.0,122.69 514.0,122.18 515.0,121.69 516.0,121.22 517.0,120.76 518.0,120.33 519.0,119.90 520.0,119.49 521.0,119.10 522.0,118.72 523.0,118.36 524.0,118.01 525.0,117.67 526.0,117.34 527.0,117.03 528.0,116.73 529.0,116.44 530.0,116.16 531.0,115.89 532.0,115.63 533.0,115.38 534.0,115.14 535.0,114.91 536.0,114.69 537.0,114.48 538.0,114.27 539.0,114.08 540.0,113.89 541.0,113.71 542.0,113.53 543.0,113.36 544.0,113.20" fill="none" stroke="#000" stroke-width="1.45"/>
<polyline points="351.0,265.20 352.0,265.19 353.0,265.17 354.0,265.16 355.0,265.14 356.0,265.13 357.0,265.11 358.0,265.10 359.0,265.08 360.0,265.06 361.0,265.04 362.0,265.02 363.0,265.00 364.0,264.98 365.0,264.96 366.0,264.94 367.0,264.92 368.0,264.90 369.0,264.87 370.0,264.85 371.0,264.82 372.0,264.79 373.0,264.77 374.0,264.74 375.0,264.71 376.0,264.68 377.0,264.64 378.0,264.61 379.0,264.58 380.0,264.54 381.0,264.51 382.0,264.47 383.0,264.43 384.0,264.39 385.0,264.35 386.0,264.30 387.0,264.26 388.0,264.21 389.0,264.17 390.0,264.12 391.0,264.07 392.0,264.01 393.0,263.96 394.0,263.90 395.0,263.84 396.0,263.78 397.0,263.72 398.0,263.65 399.0,263.59 400.0,263.52 401.0,263.45 402.0,263.37 403.0,263.29 404.0,263.21 405.0,263.13 406.0,263.05 407.0,262.96 408.0,262.87 409.0,262.77 410.0,262.68 411.0,262.58 412.0,262.47 413.0,262.36 414.0,262.25 415.0,262.14 416.0,262.02 417.0,261.90 418.0,261.77 419.0,261.64 420.0,261.50 421.0,261.36 422.0,261.21 423.0,261.06 424.0,260.91 425.0,260.75 426.0,260.58 427.0,260.41 428.0,260.23 429.0,260.05 430.0,259.86 431.0,259.66 432.0,259.46 433.0,259.25 434.0,259.03 435.0,258.81 436.0,258.58 437.0,258.34 438.0,258.09 439.0,257.84 440.0,257.58 441.0,257.30 442.0,257.02 443.0,256.73 444.0,256.43 445.0,256.13 446.0,255.81 447.0,255.48 448.0,255.14 449.0,254.79 450.0,254.42 451.0,254.05 452.0,253.66 453.0,253.26 454.0,252.85 455.0,252.43 456.0,251.99 457.0,251.54 458.0,251.08 459.0,250.60 460.0,250.10 461.0,249.59 462.0,249.06 463.0,248.52 464.0,247.96 465.0,247.39 466.0,246.80 467.0,246.19 468.0,245.56 469.0,244.91 470.0,244.24 471.0,243.55 472.0,242.85 473.0,242.12 474.0,241.37 475.0,240.60 476.0,239.81 477.0,239.00 478.0,238.16 479.0,237.30 480.0,236.42 481.0,235.51 482.0,234.57 483.0,233.62 484.0,232.63 485.0,231.62 486.0,230.59 487.0,229.52 488.0,228.43 489.0,227.32 490.0,226.17 491.0,224.99 492.0,223.79 493.0,222.56 494.0,221.30 495.0,220.01 496.0,218.69 497.0,217.33 498.0,215.95 499.0,214.54 500.0,213.10 501.0,211.62 502.0,210.12 503.0,208.58 504.0,207.02 505.0,205.42 506.0,203.79 507.0,202.13 508.0,200.44 509.0,198.72 510.0,196.96 511.0,195.18 512.0,193.37 513.0,191.53 514.0,189.66 515.0,187.76 516.0,185.83 517.0,183.87 518.0,181.89 519.0,179.88 520.0,177.84 521.0,175.78 522.0,173.69 523.0,171.58 524.0,169.45 525.0,167.30 526.0,165.12 527.0,162.93 528.0,160.71 529.0,158.48 530.0,156.23 531.0,153.97 532.0,151.69 533.0,149.40 534.0,147.10 535.0,144.79 536.0,142.46 537.0,140.13 538.0,137.80 539.0,135.45 540.0,133.11 541.0,130.76 542.0,128.41 543.0,126.06 544.0,123.71" fill="none" stroke="#2c1ec8" stroke-width="1.45"/>
<polyline points="351.0,274.71 352.0,274.70 353.0,274.68 354.0,274.67 355.0,274.66 356.0,274.64 357.0,274.62 358.0,274.61 359.0,274.59 360.0,274.57 361.0,274.56 362.0,274.54 363.0,274.52 364.0,274.50 365.0,274.48 366.0,274.46 367.0,274.43 368.0,274.41 369.0,274.39 370.0,274.36 371.0,274.33 372.0,274.31 373.0,274.28 374.0,274.25 375.0,274.22 376.0,274.19 377.0,274.15 378.0,274.12 379.0,274.08 380.0,274.05 381.0,274.01 382.0,273.97 383.0,273.93 384.0,273.88 385.0,273.84 386.0,273.79 387.0,273.74 388.0,273.69 389.0,273.64 390.0,273.59 391.0,273.53 392.0,273.47 393.0,273.41 394.0,273.35 395.0,273.28 396.0,273.21 397.0,273.14 398.0,273.07 399.0,272.99 400.0,272.92 401.0,272.83 402.0,272.75 403.0,272.66 404.0,272.57 405.0,272.47 406.0,272.37 407.0,272.27 408.0,272.17 409.0,272.05 410.0,271.94 411.0,271.82 412.0,271.70 413.0,271.57 414.0,271.44 415.0,271.30 416.0,271.15 417.0,271.01 418.0,270.85 419.0,270.69 420.0,270.53 421.0,270.35 422.0,270.18 423.0,269.99 424.0,269.80 425.0,269.60 426.0,269.39 427.0,269.18 428.0,268.96 429.0,268.73 430.0,268.49 431.0,268.24 432.0,267.99 433.0,267.72 434.0,267.45 435.0,267.17 436.0,266.87 437.0,266.57 438.0,266.25 439.0,265.93 440.0,265.59 441.0,265.24 442.0,264.88 443.0,264.51 444.0,264.12 445.0,263.72 446.0,263.31 447.0,262.88 448.0,262.44 449.0,261.98 450.0,261.51 451.0,261.02 452.0,260.52 453.0,260.00 454.0,259.47 455.0,258.91 456.0,258.34 457.0,257.76 458.0,257.15 459.0,256.52 460.0,255.88 461.0,255.22 462.0,254.53 463.0,253.83 464.0,253.10 465.0,252.36 466.0,251.59 467.0,250.80 468.0,249.99 469.0,249.16 470.0,248.31 471.0,247.43 472.0,246.53 473.0,245.60 474.0,244.66 475.0,243.68 476.0,242.69 477.0,241.67 478.0,240.63 479.0,239.56 480.0,238.47 481.0,237.35 482.0,236.21 483.0,235.05 484.0,233.86 485.0,232.65 486.0,231.42 487.0,230.16 488.0,228.88 489.0,227.57 490.0,226.25 491.0,224.90 492.0,223.53 493.0,222.14 494.0,220.73 495.0,219.30 496.0,217.86 497.0,216.39 498.0,214.90 499.0,213.40 500.0,211.89 501.0,210.36 502.0,208.81 503.0,207.25 504.0,205.68 505.0,204.10 506.0,202.51 507.0,200.91 508.0,199.30 509.0,197.69 510.0,196.07 511.0,194.45 512.0,192.82 513.0,191.19 514.0,189.56 515.0,187.94 516.0,186.31 517.0,184.69 518.0,183.07 519.0,181.45 520.0,179.85 521.0,178.25 522.0,176.66 523.0,175.08 524.0,173.51 525.0,171.95 526.0,170.40 527.0,168.87 528.0,167.36 529.0,165.86 530.0,164.37 531.0,162.91 532.0,161.46 533.0,160.03 534.0,158.62 535.0,157.23 536.0,155.87 537.0,154.52 538.0,153.19 539.0,151.89 540.0,150.61 541.0,149.35 542.0,148.12 543.0,146.91 544.0,145.72" fill="none" stroke="#84482a" stroke-width="1.45"/>
<line x1="387.50" y1="252" x2="387.50" y2="266" stroke="#111" stroke-width="1"/>
<line x1="385.50" y1="252" x2="389.50" y2="252" stroke="#111" stroke-width="1.2"/>
<line x1="385.50" y1="266" x2="389.50" y2="266" stroke="#111" stroke-width="1.2"/>
<line x1="406.50" y1="250" x2="406.50" y2="262" stroke="#111" stroke-width="1"/>
<line x1="404.50" y1="250" x2="408.50" y2="250" stroke="#111" stroke-width="1.2"/>
<line x1="404.50" y1="262" x2="408.50" y2="262" stroke="#111" stroke-width="1.2"/>
<line x1="425.50" y1="248" x2="425.50" y2="259" stroke="#111" stroke-width="1"/>
<line x1="423.50" y1="248" x2="427.50" y2="248" stroke="#111" stroke-width="1.2"/>
<line x1="423.50" y1="259" x2="427.50" y2="259" stroke="#111" stroke-width="1.2"/>
<line x1="444.50" y1="194.3" x2="444.50" y2="229" stroke="#111" stroke-width="1"/>
<line x1="442.50" y1="194.3" x2="446.50" y2="194.3" stroke="#111" stroke-width="1.2"/>
<line x1="442.50" y1="229" x2="446.50" y2="229" stroke="#111" stroke-width="1.2"/>
<line x1="462.50" y1="167.4" x2="462.50" y2="188.3" stroke="#111" stroke-width="1"/>
<line x1="460.50" y1="167.4" x2="464.50" y2="167.4" stroke="#111" stroke-width="1.2"/>
<line x1="460.50" y1="188.3" x2="464.50" y2="188.3" stroke="#111" stroke-width="1.2"/>
<line x1="481.50" y1="115.9" x2="481.50" y2="142.9" stroke="#111" stroke-width="1"/>
<line x1="479.50" y1="115.9" x2="483.50" y2="115.9" stroke="#111" stroke-width="1.2"/>
<line x1="479.50" y1="142.9" x2="483.50" y2="142.9" stroke="#111" stroke-width="1.2"/>
<line x1="500.50" y1="120" x2="500.50" y2="139.2" stroke="#111" stroke-width="1"/>
<line x1="498.50" y1="120" x2="502.50" y2="120" stroke="#111" stroke-width="1.2"/>
<line x1="498.50" y1="139.2" x2="502.50" y2="139.2" stroke="#111" stroke-width="1.2"/>
<line x1="519.50" y1="114.8" x2="519.50" y2="126.6" stroke="#111" stroke-width="1"/>
<line x1="517.50" y1="114.8" x2="521.50" y2="114.8" stroke="#111" stroke-width="1.2"/>
<line x1="517.50" y1="126.6" x2="521.50" y2="126.6" stroke="#111" stroke-width="1.2"/>
<line x1="538.50" y1="101" x2="538.50" y2="142" stroke="#111" stroke-width="1"/>
<line x1="536.50" y1="101" x2="540.50" y2="101" stroke="#111" stroke-width="1.2"/>
<line x1="536.50" y1="142" x2="540.50" y2="142" stroke="#111" stroke-width="1.2"/>
<line x1="387.50" y1="251.2" x2="387.50" y2="274.1" stroke="#8a4a2a" stroke-width="1"/>
<line x1="385.50" y1="251.2" x2="389.50" y2="251.2" stroke="#8a4a2a" stroke-width="1.2"/>
<line x1="385.50" y1="274.1" x2="389.50" y2="274.1" stroke="#8a4a2a" stroke-width="1.2"/>
<line x1="406.50" y1="260.7" x2="406.50" y2="284" stroke="#8a4a2a" stroke-width="1"/>
<line x1="404.50" y1="260.7" x2="408.50" y2="260.7" stroke="#8a4a2a" stroke-width="1.2"/>
<line x1="404.50" y1="284" x2="408.50" y2="284" stroke="#8a4a2a" stroke-width="1.2"/>
<line x1="425.50" y1="237.4" x2="425.50" y2="284.8" stroke="#8a4a2a" stroke-width="1"/>
<line x1="423.50" y1="237.4" x2="427.50" y2="237.4" stroke="#8a4a2a" stroke-width="1.2"/>
<line x1="423.50" y1="284.8" x2="427.50" y2="284.8" stroke="#8a4a2a" stroke-width="1.2"/>
<line x1="444.50" y1="245" x2="444.50" y2="274.6" stroke="#8a4a2a" stroke-width="1"/>
<line x1="442.50" y1="245" x2="446.50" y2="245" stroke="#8a4a2a" stroke-width="1.2"/>
<line x1="442.50" y1="274.6" x2="446.50" y2="274.6" stroke="#8a4a2a" stroke-width="1.2"/>
<line x1="462.50" y1="249" x2="462.50" y2="262.8" stroke="#8a4a2a" stroke-width="1"/>
<line x1="460.50" y1="249" x2="464.50" y2="249" stroke="#8a4a2a" stroke-width="1.2"/>
<line x1="460.50" y1="262.8" x2="464.50" y2="262.8" stroke="#8a4a2a" stroke-width="1.2"/>
<line x1="481.50" y1="226" x2="481.50" y2="247.3" stroke="#8a4a2a" stroke-width="1"/>
<line x1="479.50" y1="226" x2="483.50" y2="226" stroke="#8a4a2a" stroke-width="1.2"/>
<line x1="479.50" y1="247.3" x2="483.50" y2="247.3" stroke="#8a4a2a" stroke-width="1.2"/>
<line x1="500.50" y1="208" x2="500.50" y2="221" stroke="#8a4a2a" stroke-width="1"/>
<line x1="498.50" y1="208" x2="502.50" y2="208" stroke="#8a4a2a" stroke-width="1.2"/>
<line x1="498.50" y1="221" x2="502.50" y2="221" stroke="#8a4a2a" stroke-width="1.2"/>
<line x1="519.50" y1="172" x2="519.50" y2="187" stroke="#8a4a2a" stroke-width="1"/>
<line x1="517.50" y1="172" x2="521.50" y2="172" stroke="#8a4a2a" stroke-width="1.2"/>
<line x1="517.50" y1="187" x2="521.50" y2="187" stroke="#8a4a2a" stroke-width="1.2"/>
<line x1="538.50" y1="140" x2="538.50" y2="163.5" stroke="#8a4a2a" stroke-width="1"/>
<line x1="536.50" y1="140" x2="540.50" y2="140" stroke="#8a4a2a" stroke-width="1.2"/>
<line x1="536.50" y1="163.5" x2="540.50" y2="163.5" stroke="#8a4a2a" stroke-width="1.2"/>
<line x1="387.50" y1="254" x2="387.50" y2="266" stroke="#3030c8" stroke-width="1"/>
<line x1="385.50" y1="254" x2="389.50" y2="254" stroke="#3030c8" stroke-width="1.2"/>
<line x1="385.50" y1="266" x2="389.50" y2="266" stroke="#3030c8" stroke-width="1.2"/>
<line x1="406.50" y1="252" x2="406.50" y2="263" stroke="#3030c8" stroke-width="1"/>
<line x1="404.50" y1="252" x2="408.50" y2="252" stroke="#3030c8" stroke-width="1.2"/>
<line x1="404.50" y1="263" x2="408.50" y2="263" stroke="#3030c8" stroke-width="1.2"/>
<line x1="425.50" y1="256" x2="425.50" y2="266" stroke="#3030c8" stroke-width="1"/>
<line x1="423.50" y1="256" x2="427.50" y2="256" stroke="#3030c8" stroke-width="1.2"/>
<line x1="423.50" y1="266" x2="427.50" y2="266" stroke="#3030c8" stroke-width="1.2"/>
<line x1="444.50" y1="228" x2="444.50" y2="262" stroke="#3030c8" stroke-width="1"/>
<line x1="442.50" y1="228" x2="446.50" y2="228" stroke="#3030c8" stroke-width="1.2"/>
<line x1="442.50" y1="262" x2="446.50" y2="262" stroke="#3030c8" stroke-width="1.2"/>
<line x1="462.50" y1="242.3" x2="462.50" y2="253" stroke="#3030c8" stroke-width="1"/>
<line x1="460.50" y1="242.3" x2="464.50" y2="242.3" stroke="#3030c8" stroke-width="1.2"/>
<line x1="460.50" y1="253" x2="464.50" y2="253" stroke="#3030c8" stroke-width="1.2"/>
<line x1="481.50" y1="223" x2="481.50" y2="247.8" stroke="#3030c8" stroke-width="1"/>
<line x1="479.50" y1="223" x2="483.50" y2="223" stroke="#3030c8" stroke-width="1.2"/>
<line x1="479.50" y1="247.8" x2="483.50" y2="247.8" stroke="#3030c8" stroke-width="1.2"/>
<line x1="500.50" y1="193.6" x2="500.50" y2="215.8" stroke="#3030c8" stroke-width="1"/>
<line x1="498.50" y1="193.6" x2="502.50" y2="193.6" stroke="#3030c8" stroke-width="1.2"/>
<line x1="498.50" y1="215.8" x2="502.50" y2="215.8" stroke="#3030c8" stroke-width="1.2"/>
<line x1="519.50" y1="161.7" x2="519.50" y2="204.7" stroke="#3030c8" stroke-width="1"/>
<line x1="517.50" y1="161.7" x2="521.50" y2="161.7" stroke="#3030c8" stroke-width="1.2"/>
<line x1="517.50" y1="204.7" x2="521.50" y2="204.7" stroke="#3030c8" stroke-width="1.2"/>
<line x1="536.50" y1="126" x2="536.50" y2="148" stroke="#3030c8" stroke-width="1"/>
<line x1="534.50" y1="126" x2="538.50" y2="126" stroke="#3030c8" stroke-width="1.2"/>
<line x1="534.50" y1="148" x2="538.50" y2="148" stroke="#3030c8" stroke-width="1.2"/>
<rect x="384.80" y="256.80" width="5.40" height="5.40" fill="#000"/>
<rect x="403.80" y="253.50" width="5.40" height="5.40" fill="#000"/>
<rect x="422.80" y="251.10" width="5.40" height="5.40" fill="#000"/>
<rect x="441.80" y="208.60" width="5.40" height="5.40" fill="#000"/>
<rect x="459.80" y="175.20" width="5.40" height="5.40" fill="#000"/>
<rect x="478.80" y="126.70" width="5.40" height="5.40" fill="#000"/>
<rect x="497.80" y="127.00" width="5.40" height="5.40" fill="#000"/>
<rect x="516.80" y="117.70" width="5.40" height="5.40" fill="#000"/>
<rect x="535.80" y="118.30" width="5.40" height="5.40" fill="#000"/>
<circle cx="387.50" cy="264.80" r="2.60" fill="#8a3812" stroke="#602810" stroke-width="0.6"/>
<circle cx="406.50" cy="276.60" r="2.60" fill="#8a3812" stroke="#602810" stroke-width="0.6"/>
<circle cx="425.50" cy="266.20" r="2.60" fill="#8a3812" stroke="#602810" stroke-width="0.6"/>
<circle cx="444.50" cy="256.60" r="2.60" fill="#8a3812" stroke="#602810" stroke-width="0.6"/>
<circle cx="462.50" cy="255.70" r="2.60" fill="#8a3812" stroke="#602810" stroke-width="0.6"/>
<circle cx="481.50" cy="232.40" r="2.60" fill="#8a3812" stroke="#602810" stroke-width="0.6"/>
<circle cx="500.50" cy="214.70" r="2.60" fill="#8a3812" stroke="#602810" stroke-width="0.6"/>
<circle cx="519.50" cy="179.30" r="2.60" fill="#8a3812" stroke="#602810" stroke-width="0.6"/>
<circle cx="538.50" cy="152.40" r="2.60" fill="#8a3812" stroke="#602810" stroke-width="0.6"/>
<polygon points="387.50,256.95 390.60,262.22 384.40,262.22" fill="#1212d8"/>
<polygon points="406.50,254.95 409.60,260.22 403.40,260.22" fill="#1212d8"/>
<polygon points="425.50,258.25 428.60,263.52 422.40,263.52" fill="#1212d8"/>
<polygon points="444.50,246.25 447.60,251.52 441.40,251.52" fill="#1212d8"/>
<polygon points="462.50,244.36 465.60,249.62 459.40,249.62" fill="#1212d8"/>
<polygon points="481.50,233.25 484.60,238.52 478.40,238.52" fill="#1212d8"/>
<polygon points="500.50,201.75 503.60,207.02 497.40,207.02" fill="#1212d8"/>
<polygon points="519.50,181.96 522.60,187.22 516.40,187.22" fill="#1212d8"/>
<polygon points="536.50,134.06 539.60,139.32 533.40,139.32" fill="#1212d8"/>
</g>
<rect x="360.5" y="94.5" width="63" height="55.5" fill="#fff" stroke="#555" stroke-width="1"/>
<rect x="360" y="119.8" width="15.5" height="7.6" fill="#fde2f2"/>
<rect x="366.44" y="104.94" width="5.13" height="5.13" fill="#000"/>
<text x="376.2" y="111.7" font-family="Liberation Sans, sans-serif" font-weight="bold" stroke="#111" stroke-width="0.3" font-size="11.7" fill="#000">WT</text>
<circle cx="369.00" cy="123.40" r="2.73" fill="#8a3812" stroke="#602810" stroke-width="0.6"/>
<text x="376.2" y="127.6" font-family="Liberation Sans, sans-serif" font-weight="bold" stroke="#111" stroke-width="0.3" font-size="11.7" fill="#000">WB-EQ</text>
<polygon points="369.00,136.97 372.72,143.29 365.28,143.29" fill="#1212d8"/>
<text x="376.2" y="144.7" font-family="Liberation Sans, sans-serif" font-weight="bold" stroke="#111" stroke-width="0.3" font-size="11.7" fill="#000">WB-EA</text>
</svg>
</body></html>
